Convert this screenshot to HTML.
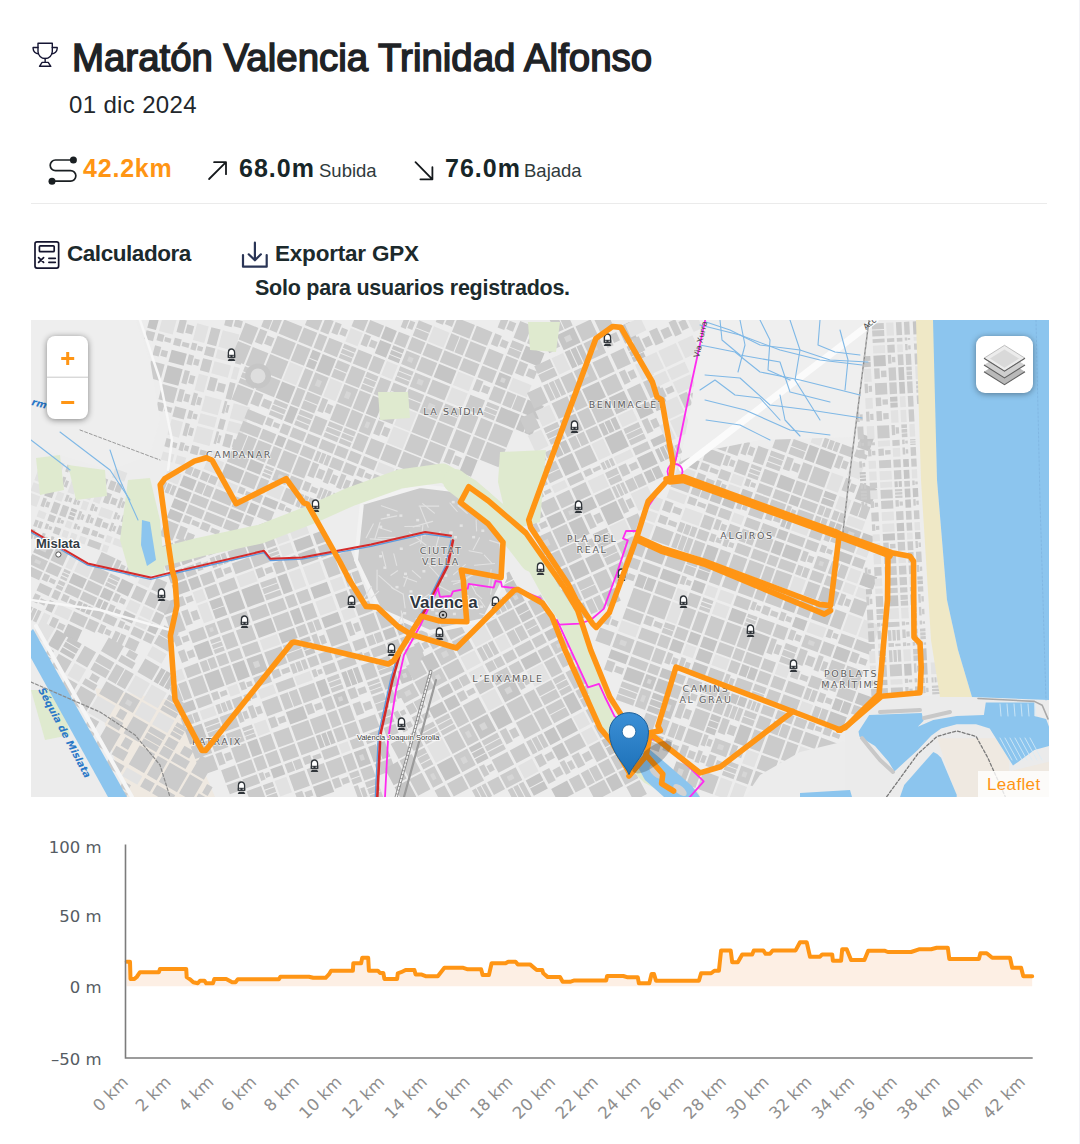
<!DOCTYPE html>
<html lang="es">
<head>
<meta charset="utf-8">
<title>Maratón Valencia Trinidad Alfonso</title>
<style>
html,body{margin:0;padding:0;background:#fff;}
body{width:1080px;height:1144px;position:relative;overflow:hidden;font-family:"Liberation Sans",Arial,sans-serif;}
.a{position:absolute;white-space:nowrap;line-height:1;}
#title{left:71.5px;top:37.6px;font-size:39px;font-weight:normal;-webkit-text-stroke:1.5px #1f2326;color:#1f2326;transform:scaleX(0.985);transform-origin:0 0;}
#date{left:69px;top:93px;font-size:24px;letter-spacing:0.35px;color:#22272b;}
.stat{font-size:25px;font-weight:bold;color:#172628;top:156px;letter-spacing:1px;}
.lbl{font-size:18.5px;font-weight:normal;color:#2f3a3c;letter-spacing:0;}
#dist{left:83px;color:#ff9514;letter-spacing:0.8px;}
#up{left:239px;}
#down{left:445px;}
#hr{position:absolute;left:31px;top:202.5px;width:1016px;height:1.6px;background:#ebebeb;}
.act{font-size:22.5px;font-weight:bold;color:#1c2a2c;top:243px;}
#calc{left:67px;letter-spacing:-0.45px;}
#gpx{left:275px;letter-spacing:-0.2px;}
#solo{left:255px;top:277.5px;font-size:21.5px;letter-spacing:-0.25px;font-weight:bold;color:#1c2a2c;}
#map{position:absolute;left:31px;top:320px;width:1018px;height:477px;overflow:hidden;background:#e9e9e9;}
#chart{position:absolute;left:0;top:0;}
#map svg{position:absolute;left:0;top:0;}
#map text{font-family:"DejaVu Sans","Liberation Sans",sans-serif;}
.ml{font-size:9.5px;letter-spacing:1.6px;fill:#5f5f5f;paint-order:stroke;stroke:rgba(255,255,255,0.6);stroke-width:1.5px;}
.city{font-size:17px;paint-order:stroke;stroke:#fff;stroke-width:2.5px;stroke-linejoin:round;font-weight:bold;fill:#2d353d;font-family:"Liberation Sans",sans-serif !important;}
.town{font-size:13px;font-weight:bold;fill:#333c44;paint-order:stroke;stroke:#fff;stroke-width:2.5px;stroke-linejoin:round;font-family:"Liberation Sans",sans-serif !important;}
.st{font-size:7.5px;fill:#333;font-family:"Liberation Sans",sans-serif !important;paint-order:stroke;stroke:#fff;stroke-width:1.5px;}
.wat{font-size:10px;font-style:italic;fill:#2a78c8;font-weight:bold;}
.road{font-size:8px;fill:#444;}
#zoomc{position:absolute;left:16px;top:16px;width:41px;height:83px;background:#fff;border-radius:8px;box-shadow:0 1px 6px rgba(0,0,0,0.45);overflow:hidden;}
.zb{height:41px;line-height:40px;text-align:center;color:#ff9514;font:bold 25px "Liberation Sans",sans-serif;}
.zm{border-top:1px solid #c8c8c8;}
#layers{position:absolute;left:945px;top:16px;width:57px;height:57px;background:#fff;border-radius:9px;box-shadow:0 1px 6px rgba(0,0,0,0.4);}
#layers svg{position:absolute;left:0;top:0;}
#attr{position:absolute;left:947px;top:450.5px;width:71px;height:27px;background:rgba(255,255,255,0.8);color:#ff9514;font:17px "Liberation Sans",sans-serif;letter-spacing:0.35px;line-height:27px;padding-left:9px;box-sizing:border-box;}

.yl{font-family:"DejaVu Sans",sans-serif;font-size:16.5px;fill:#555c63;}
.xl{font-family:"DejaVu Sans",sans-serif;font-size:16.5px;fill:#8e8e8e;}
#edge{position:absolute;left:1079px;top:0;width:1px;height:1144px;background:#f2f2f6;}
</style>
</head>
<body>
<svg class="a" style="left:28px;top:38px" width="36" height="34" viewBox="28 38 36 34">
  <g fill="none" stroke="#151533" stroke-width="1.4" stroke-linejoin="round" stroke-linecap="round">
    <path d="M38 43.3h14.3v8.2a7.15 7 0 0 1-14.3 0z"/>
    <path d="M38 47.5h-4.9v1a5.4 5.4 0 0 0 5.4 5.2M52.3 47.5h4.9v1a5.4 5.4 0 0 1-5.4 5.2"/>
    <path d="M45.15 58.5v3.8M42.1 62.4h6.1l2.6 3.9H39.5z"/>
  </g>
</svg>
<div id="title" class="a">Maratón Valencia Trinidad Alfonso</div>
<div id="date" class="a">01 dic 2024</div>

<svg class="a" style="left:42px;top:150px" width="40" height="40" viewBox="42 150 40 40">
  <path d="M73.4 160H55.5a5.3 5.3 0 0 0 0 10.6H70.6a5.25 5.25 0 0 1 0 10.5H52" fill="none" stroke="#1a1f22" stroke-width="1.7"/>
  <circle cx="73.4" cy="160.1" r="3.5" fill="#1a1f22"/>
  <circle cx="52" cy="181.3" r="3.5" fill="#1a1f22"/>
</svg>
<div id="dist" class="a stat">42.2km</div>
<svg class="a" style="left:202px;top:155px" width="30" height="30" viewBox="202 155 30 30">
  <path d="M209.1 179L226 162.2M214.1 162.2H226V174.2" fill="none" stroke="#15191c" stroke-width="1.8" stroke-linecap="round" stroke-linejoin="round"/>
</svg>
<div id="up" class="a stat">68.0m</div><div class="a lbl" style="left:319px;top:162px">Subida</div>
<svg class="a" style="left:408px;top:155px" width="30" height="30" viewBox="408 155 30 30">
  <path d="M415.5 162.2L432.4 179.3M420.4 179.3H432.4V167.2" fill="none" stroke="#15191c" stroke-width="1.8" stroke-linecap="round" stroke-linejoin="round"/>
</svg>
<div id="down" class="a stat">76.0m</div><div class="a lbl" style="left:524px;top:162px">Bajada</div>
<div id="hr"></div>

<svg class="a" style="left:30px;top:236px" width="34" height="36" viewBox="30 236 34 36">
  <g fill="none" stroke="#14142e" stroke-width="1.7" stroke-linecap="round">
    <rect x="35" y="241.8" width="23.65" height="26.3" rx="2"/>
    <rect x="39.4" y="245.8" width="14.8" height="5.9" rx="1"/>
    <path d="M38.6 257.6l5 4.8M43.6 257.6l-5 4.8M48.9 258.3h6.4M48.9 262.3h6.4"/>
  </g>
</svg>
<div id="calc" class="a act">Calculadora</div>
<svg class="a" style="left:236px;top:236px" width="36" height="36" viewBox="236 236 36 36">
  <g fill="none" stroke="#2a3556" stroke-width="2.2" stroke-linecap="round" stroke-linejoin="round">
    <path d="M243 255v11.7h23.7V255"/>
    <path d="M254.9 242.7v17.6M248.7 254.3l6.2 6 6-6"/>
  </g>
</svg>
<div id="gpx" class="a act">Exportar GPX</div>
<div id="solo" class="a">Solo para usuarios registrados.</div>

<div id="map">
<svg width="1018" height="477" viewBox="31 320 1018 477">
<rect x="31" y="320" width="1018" height="477" fill="#ededed"/>
<polygon points="95.0,688.0 172.0,700.0 195.0,750.0 215.0,797.0 125.0,797.0" fill="#efe9e1" />
<g transform="translate(0.0,0.0) rotate(15,190.0,395.0)">
<path fill="#cbcbcb" d="M131.3 343.6h9.0v9.0h-9.0zM143.4 343.6h6.4v7.2h-6.4zM151.1 345.4h6.4v4.5h-6.4zM143.4 356.0h6.4v10.0h-6.4zM151.1 358.5h6.4v6.3h-6.4zM143.4 372.1h14.2v17.0h-14.2zM160.6 323.9h7.1v13.7h-7.1zM169.2 327.4h7.1v8.6h-7.1zM160.6 343.6h7.1v7.2h-7.1zM169.2 345.4h7.1v4.5h-7.1zM160.6 391.6h15.7v15.7h-15.7zM160.6 409.8h7.1v8.4h-7.1zM169.2 411.9h7.1v5.3h-7.1zM178.5 343.6h5.3v7.2h-5.3zM185.1 345.4h5.3v4.5h-5.3zM178.5 356.0h5.3v10.0h-5.3zM185.1 358.5h5.3v6.3h-5.3zM178.5 372.1h5.3v13.6h-5.3zM185.1 375.5h5.3v8.5h-5.3zM178.5 391.6h5.3v12.6h-5.3zM185.1 394.7h5.3v7.9h-5.3zM178.5 409.8h11.8v10.5h-11.8zM178.5 442.7h5.3v8.5h-5.3zM185.1 444.8h5.3v5.3h-5.3zM180.9 458.6h5.3v3.3h-5.3zM193.1 323.9h9.5v17.2h-9.5zM193.1 343.6h9.5v9.0h-9.5zM193.1 356.0h9.5v12.5h-9.5zM195.0 376.3h4.3v6.8h-4.3zM193.1 391.6h4.3v12.6h-4.3zM198.3 394.7h4.3v7.9h-4.3zM193.1 409.8h4.3v8.4h-4.3zM198.3 411.9h4.3v5.3h-4.3zM193.1 423.0h4.3v12.9h-4.3zM198.3 426.2h4.3v8.0h-4.3zM193.1 442.7h4.3v8.5h-4.3zM198.3 444.8h4.3v5.3h-4.3zM204.9 307.2h7.7v11.5h-7.7zM214.3 310.0h7.7v7.2h-7.7zM208.4 328.2h7.7v6.9h-7.7zM208.4 359.2h7.7v5.0h-7.7zM204.9 372.1h7.7v13.6h-7.7zM214.3 375.5h7.7v8.5h-7.7zM208.4 395.5h7.7v6.3h-7.7zM208.4 412.5h7.7v4.2h-7.7zM208.4 427.0h7.7v6.4h-7.7zM204.9 442.7h7.7v8.5h-7.7zM214.3 444.8h7.7v5.3h-7.7zM225.2 343.6h5.9v9.0h-5.9zM226.4 359.2h2.6v5.0h-2.6zM225.2 372.1h5.9v17.0h-5.9zM225.2 391.6h2.6v12.6h-2.6zM228.4 394.7h2.6v7.9h-2.6zM225.2 409.8h5.9v10.5h-5.9zM225.2 423.0h2.6v12.9h-2.6zM228.4 426.2h2.6v8.0h-2.6zM226.4 445.3h2.6v4.2h-2.6zM234.4 423.0h7.7v12.9h-7.7zM243.8 426.2h7.7v8.0h-7.7z"/>
<path fill="#c5c5c5" d="M131.3 323.9h9.0v17.2h-9.0zM160.6 356.0h15.7v12.5h-15.7zM160.6 372.1h15.7v17.0h-15.7z"/>
<path fill="#e2e2e2" d="M143.4 323.9h14.2v17.2h-14.2zM178.5 323.9h11.8v17.2h-11.8zM178.5 423.0h11.8v16.1h-11.8zM178.5 456.6h11.8v8.2h-11.8zM193.1 372.1h9.5v17.0h-9.5zM193.1 456.6h9.5v8.2h-9.5zM204.9 323.9h17.1v17.2h-17.1zM204.9 343.6h17.1v9.0h-17.1zM204.9 356.0h17.1v12.5h-17.1zM204.9 391.6h17.1v15.7h-17.1zM204.9 409.8h17.1v10.5h-17.1zM204.9 423.0h17.1v16.1h-17.1zM225.2 356.0h5.9v12.5h-5.9zM225.2 442.7h5.9v10.6h-5.9zM234.4 391.6h17.1v15.7h-17.1zM234.4 409.8h17.1v10.5h-17.1z"/>
</g>
<g transform="translate(0.0,0.0) rotate(22,362.5,432.5)">
<path fill="#cbcbcb" d="M198.9 541.9h6.6v4.4h-6.6zM196.0 552.2h4.2v9.8h-4.2zM201.2 552.2h4.2v9.8h-4.2zM206.4 552.2h4.2v9.8h-4.2zM212.8 374.5h14.0v18.1h-14.0zM212.8 394.3h14.0v19.4h-14.0zM212.8 528.4h6.5v8.3h-6.5zM220.3 528.4h6.5v8.3h-6.5zM212.8 586.9h14.0v17.2h-14.0zM228.8 357.0h7.9v15.2h-7.9zM237.7 357.0h7.9v15.2h-7.9zM228.8 374.5h7.6v14.4h-7.6zM238.0 378.1h7.6v9.0h-7.6zM228.8 394.3h16.8v19.4h-16.8zM228.8 415.2h16.8v5.2h-16.8zM228.8 421.5h16.8v5.2h-16.8zM228.8 427.7h16.8v5.2h-16.8zM228.8 434.5h16.8v16.5h-16.8zM232.1 515.6h7.6v5.5h-7.6zM228.8 528.4h7.9v8.3h-7.9zM237.7 528.4h7.9v8.3h-7.9zM228.8 539.2h7.9v11.0h-7.9zM237.7 539.2h7.9v11.0h-7.9zM228.8 552.2h16.8v9.8h-16.8zM228.8 564.0h16.8v9.3h-16.8zM228.8 575.1h7.6v7.7h-7.6zM238.0 577.0h7.6v4.8h-7.6zM228.8 586.9h7.6v13.7h-7.6zM238.0 590.4h7.6v8.6h-7.6zM247.6 357.0h19.6v15.2h-19.6zM247.6 374.5h19.6v18.1h-19.6zM247.6 394.3h19.6v19.4h-19.6zM247.6 415.2h19.6v17.7h-19.6zM247.6 434.5h8.8v13.2h-8.8zM258.4 437.8h8.8v8.3h-8.8zM247.6 453.7h19.6v9.8h-19.6zM247.6 466.3h19.6v10.4h-19.6zM247.6 478.3h9.3v18.8h-9.3zM257.9 478.3h9.3v18.8h-9.3zM247.6 499.0h19.6v11.2h-19.6zM251.5 530.5h8.8v3.3h-8.8zM247.6 539.2h19.6v11.0h-19.6zM247.6 552.2h19.6v9.8h-19.6zM247.6 564.0h19.6v9.3h-19.6zM247.6 575.1h8.8v7.7h-8.8zM258.4 577.0h8.8v4.8h-8.8zM268.9 340.0h14.3v14.5h-14.3zM268.9 357.0h14.3v15.2h-14.3zM268.9 374.5h14.3v18.1h-14.3zM268.9 434.5h14.3v4.8h-14.3zM268.9 440.3h14.3v4.8h-14.3zM268.9 446.2h14.3v4.8h-14.3zM268.9 453.7h6.4v7.8h-6.4zM276.8 455.7h6.4v4.9h-6.4zM268.9 466.3h14.3v10.4h-14.3zM268.9 478.3h14.3v18.8h-14.3zM268.9 512.2h14.3v13.7h-14.3zM268.9 528.4h6.4v6.6h-6.4zM276.8 530.1h6.4v4.1h-6.4zM268.9 539.2h14.3v11.0h-14.3zM268.9 564.0h14.3v9.3h-14.3zM285.3 340.0h8.8v14.5h-8.8zM285.3 357.0h8.8v15.2h-8.8zM285.3 394.3h8.8v19.4h-8.8zM285.3 415.2h8.8v17.7h-8.8zM285.3 453.7h8.8v9.8h-8.8zM285.3 478.3h8.8v18.8h-8.8zM285.3 499.0h8.8v3.1h-8.8zM285.3 503.0h8.8v3.1h-8.8zM285.3 507.1h8.8v3.1h-8.8zM285.3 512.2h8.8v13.7h-8.8zM285.3 528.4h8.8v8.3h-8.8zM285.3 552.2h8.8v9.8h-8.8zM296.2 340.0h6.5v11.6h-6.5zM304.2 342.9h6.5v7.3h-6.5zM296.2 357.0h14.4v15.2h-14.4zM296.2 394.3h14.4v19.4h-14.4zM296.2 415.2h14.4v8.4h-14.4zM296.2 424.6h14.4v8.4h-14.4zM296.2 434.5h14.4v4.8h-14.4zM296.2 440.3h14.4v4.8h-14.4zM296.2 446.2h14.4v4.8h-14.4zM296.2 453.7h14.4v9.8h-14.4zM296.2 466.3h14.4v10.4h-14.4zM296.2 478.3h14.4v18.8h-14.4zM296.2 499.0h14.4v11.2h-14.4zM299.1 515.6h6.5v5.5h-6.5zM296.2 539.2h14.4v11.0h-14.4zM312.5 325.4h13.1v12.8h-13.1zM315.2 343.7h5.9v5.8h-5.9zM312.5 357.0h13.1v4.4h-13.1zM312.5 362.4h13.1v4.4h-13.1zM312.5 367.7h13.1v4.4h-13.1zM312.5 374.5h13.1v8.5h-13.1zM312.5 384.0h13.1v8.5h-13.1zM315.2 399.1h5.9v7.8h-5.9zM312.5 415.2h5.9v14.2h-5.9zM319.7 418.8h5.9v8.9h-5.9zM312.5 434.5h13.1v16.5h-13.1zM312.5 453.7h13.1v9.8h-13.1zM312.5 466.3h13.1v10.4h-13.1zM312.5 478.3h13.1v18.8h-13.1zM312.5 499.0h13.1v11.2h-13.1zM312.5 512.2h13.1v13.7h-13.1zM312.5 528.4h5.9v6.6h-5.9zM319.7 530.1h5.9v4.1h-5.9zM327.6 325.4h14.9v12.8h-14.9zM327.6 340.0h6.7v11.6h-6.7zM335.8 342.9h6.7v7.3h-6.7zM327.6 357.0h14.9v15.2h-14.9zM327.6 374.5h14.9v18.1h-14.9zM327.6 394.3h14.9v19.4h-14.9zM327.6 415.2h14.9v17.7h-14.9zM327.6 434.5h14.9v4.8h-14.9zM327.6 440.3h14.9v4.8h-14.9zM327.6 446.2h14.9v4.8h-14.9zM327.6 453.7h14.9v9.8h-14.9zM327.6 466.3h4.3v10.4h-4.3zM332.9 466.3h4.3v10.4h-4.3zM338.2 466.3h4.3v10.4h-4.3zM327.6 478.3h6.7v15.0h-6.7zM335.8 482.1h6.7v9.4h-6.7zM327.6 499.0h6.7v9.0h-6.7zM335.8 501.2h6.7v5.6h-6.7zM327.6 512.2h4.3v13.7h-4.3zM332.9 512.2h4.3v13.7h-4.3zM338.2 512.2h4.3v13.7h-4.3zM344.2 357.0h12.1v15.2h-12.1zM344.2 374.5h12.1v5.4h-12.1zM344.2 380.8h12.1v5.4h-12.1zM344.2 387.2h12.1v5.4h-12.1zM344.2 394.3h12.1v19.4h-12.1zM344.2 415.2h12.1v17.7h-12.1zM344.2 434.5h12.1v4.8h-12.1zM344.2 440.3h12.1v4.8h-12.1zM344.2 446.2h12.1v4.8h-12.1zM344.2 453.7h12.1v9.8h-12.1zM344.2 466.3h12.1v10.4h-12.1zM344.2 478.3h5.5v15.0h-5.5zM350.9 482.1h5.5v9.4h-5.5zM344.2 499.0h3.4v11.2h-3.4zM348.6 499.0h3.4v11.2h-3.4zM352.9 499.0h3.4v11.2h-3.4zM358.4 307.3h5.3v13.0h-5.3zM364.9 310.6h5.3v8.2h-5.3zM358.4 325.4h11.8v12.8h-11.8zM360.8 360.8h5.3v6.1h-5.3zM358.4 374.5h11.8v18.1h-11.8zM358.4 415.2h11.8v17.7h-11.8zM358.4 434.5h11.8v16.5h-11.8zM358.4 453.7h11.8v9.8h-11.8zM358.4 466.3h11.8v10.4h-11.8zM358.4 478.3h5.3v15.0h-5.3zM364.9 482.1h5.3v9.4h-5.3zM358.4 499.0h5.4v11.2h-5.4zM364.8 499.0h5.4v11.2h-5.4zM372.7 307.3h14.5v7.7h-14.5zM372.7 316.0h14.5v7.7h-14.5zM372.7 325.4h14.5v12.8h-14.5zM372.7 340.0h14.5v14.5h-14.5zM372.7 357.0h14.5v4.4h-14.5zM372.7 362.4h14.5v4.4h-14.5zM372.7 367.7h14.5v4.4h-14.5zM372.7 374.5h14.5v8.5h-14.5zM372.7 384.0h14.5v8.5h-14.5zM372.7 394.3h14.5v19.4h-14.5zM372.7 415.2h6.5v14.2h-6.5zM380.7 418.8h6.5v8.9h-6.5zM372.7 434.5h14.5v16.5h-14.5zM372.7 453.7h14.5v9.8h-14.5zM372.7 466.3h6.5v8.3h-6.5zM380.7 468.3h6.5v5.2h-6.5zM389.0 290.8h7.6v11.8h-7.6zM398.3 293.7h7.6v7.4h-7.6zM392.4 311.4h7.6v6.5h-7.6zM389.0 325.4h16.8v12.8h-16.8zM389.0 340.0h16.8v14.5h-16.8zM389.0 357.0h16.8v15.2h-16.8zM389.0 374.5h16.8v8.5h-16.8zM389.0 384.0h16.8v8.5h-16.8zM392.4 399.1h7.6v7.8h-7.6zM389.0 434.5h16.8v16.5h-16.8zM389.0 466.3h16.8v10.4h-16.8zM407.7 290.8h18.8v14.7h-18.8zM407.7 307.3h8.9v16.3h-8.9zM417.6 307.3h8.9v16.3h-8.9zM407.7 325.4h18.8v12.8h-18.8zM407.7 357.0h18.8v15.2h-18.8zM407.7 374.5h18.8v18.1h-18.8zM407.7 394.3h18.8v19.4h-18.8zM407.7 415.2h18.8v17.7h-18.8zM407.7 434.5h18.8v16.5h-18.8zM407.7 453.7h18.8v9.8h-18.8zM428.5 290.8h17.0v14.7h-17.0zM428.5 307.3h17.0v16.3h-17.0zM428.5 325.4h17.0v12.8h-17.0zM431.9 343.7h7.6v5.8h-7.6zM431.9 360.8h7.6v6.1h-7.6zM428.5 374.5h17.0v8.5h-17.0zM428.5 384.0h17.0v8.5h-17.0zM428.5 394.3h17.0v19.4h-17.0zM428.5 415.2h17.0v17.7h-17.0zM428.5 434.5h17.0v16.5h-17.0zM448.4 270.1h7.1v14.4h-7.1zM457.1 273.7h7.1v9.0h-7.1zM448.4 290.8h7.1v11.8h-7.1zM457.1 293.7h7.1v7.4h-7.1zM448.4 307.3h15.8v16.3h-15.8zM448.4 325.4h15.8v12.8h-15.8zM448.4 340.0h7.1v11.6h-7.1zM457.1 342.9h7.1v7.3h-7.1zM448.4 357.0h15.8v15.2h-15.8zM448.4 374.5h15.8v18.1h-15.8zM448.4 394.3h15.8v19.4h-15.8zM448.4 415.2h7.1v14.2h-7.1zM457.1 418.8h7.1v8.9h-7.1zM467.0 270.1h12.7v18.0h-12.7zM467.0 290.8h12.7v6.9h-12.7zM467.0 298.6h12.7v6.9h-12.7zM467.0 307.3h12.7v16.3h-12.7zM467.0 340.0h12.7v14.5h-12.7zM467.0 357.0h12.7v4.4h-12.7zM467.0 362.4h12.7v4.4h-12.7zM467.0 367.7h12.7v4.4h-12.7zM467.0 374.5h12.7v18.1h-12.7zM467.0 394.3h12.7v19.4h-12.7zM481.6 270.1h6.0v18.0h-6.0zM488.6 270.1h6.0v18.0h-6.0zM495.7 270.1h6.0v18.0h-6.0zM481.6 307.3h9.0v13.0h-9.0zM492.6 310.6h9.0v8.2h-9.0zM485.6 328.6h9.0v5.1h-9.0zM481.6 340.0h9.5v14.5h-9.5zM492.1 340.0h9.5v14.5h-9.5zM481.6 374.5h20.0v18.1h-20.0zM481.6 394.3h20.0v19.4h-20.0z"/>
<path fill="#c5c5c5" d="M212.8 539.2h14.0v11.0h-14.0zM212.8 552.2h14.0v9.8h-14.0zM212.8 564.0h14.0v9.3h-14.0zM212.8 575.1h14.0v9.6h-14.0zM247.6 512.2h19.6v13.7h-19.6zM268.9 415.2h14.3v17.7h-14.3zM268.9 499.0h14.3v11.2h-14.3zM268.9 552.2h14.3v9.8h-14.3zM285.3 374.5h8.8v8.5h-8.8zM285.3 384.0h8.8v8.5h-8.8zM285.3 434.5h8.8v16.5h-8.8zM285.3 466.3h8.8v10.4h-8.8zM285.3 539.2h8.8v11.0h-8.8zM296.2 374.5h14.4v18.1h-14.4zM296.2 528.4h14.4v8.3h-14.4zM344.2 325.4h12.1v12.8h-12.1zM344.2 340.0h12.1v14.5h-12.1zM358.4 340.0h11.8v4.2h-11.8zM358.4 345.2h11.8v4.2h-11.8zM358.4 350.4h11.8v4.2h-11.8zM358.4 394.3h11.8v19.4h-11.8zM372.7 478.3h14.5v18.8h-14.5zM407.7 340.0h18.8v14.5h-18.8zM467.0 325.4h12.7v12.8h-12.7zM467.0 415.2h12.7v17.7h-12.7zM481.6 290.8h20.0v14.7h-20.0zM481.6 357.0h20.0v15.2h-20.0zM503.4 340.0h17.3v14.5h-17.3zM503.4 357.0h8.2v15.2h-8.2zM512.6 357.0h8.2v15.2h-8.2z"/>
<path fill="#e2e2e2" d="M196.0 539.2h14.6v11.0h-14.6zM228.8 512.2h16.8v13.7h-16.8zM247.6 528.4h19.6v8.3h-19.6zM268.9 394.3h14.3v19.4h-14.3zM296.2 512.2h14.4v13.7h-14.4zM312.5 340.0h13.1v14.5h-13.1zM312.5 394.3h13.1v19.4h-13.1zM358.4 357.0h11.8v15.2h-11.8zM389.0 307.3h16.8v16.3h-16.8zM389.0 394.3h16.8v19.4h-16.8zM389.0 415.2h16.8v17.7h-16.8zM389.0 453.7h16.8v9.8h-16.8zM428.5 340.0h17.0v14.5h-17.0zM428.5 357.0h17.0v15.2h-17.0zM481.6 325.4h20.0v12.8h-20.0z"/>
<path fill="#d6d6d6" d="M300.6 400.1h5.1v6.8h-5.1zM300.6 502.3h5.1v3.9h-5.1zM332.1 400.1h5.2v6.8h-5.2zM362.0 420.5h4.1v6.2h-4.1zM377.0 344.4h5.1v5.1h-5.1zM377.0 400.1h5.1v6.8h-5.1zM394.1 361.5h5.9v5.3h-5.9zM413.3 379.9h6.6v6.3h-6.6zM433.6 439.5h5.9v5.8h-5.9zM470.9 329.2h4.5v4.5h-4.5z"/>
</g>
<g transform="translate(0.0,0.0) rotate(-25,598.5,472.5)">
<path fill="#cbcbcb" d="M513.8 491.5h7.3v9.6h-7.3zM522.8 493.9h7.3v6.0h-7.3zM513.8 505.4h16.3v19.0h-16.3zM513.8 526.0h16.3v16.1h-16.3zM513.8 563.1h16.3v18.3h-16.3zM532.1 429.2h15.7v12.5h-15.7zM532.1 443.7h15.7v18.0h-15.7zM532.1 464.9h7.1v6.4h-7.1zM540.7 466.5h7.1v4.0h-7.1zM532.1 475.7h15.7v13.8h-15.7zM532.1 505.4h15.7v19.0h-15.7zM532.1 526.0h15.7v16.1h-15.7zM532.1 563.1h15.7v8.7h-15.7zM532.1 572.7h15.7v8.7h-15.7zM532.1 583.8h7.3v14.2h-7.3zM540.5 583.8h7.3v14.2h-7.3zM550.0 390.2h14.6v17.1h-14.6zM550.0 429.2h6.6v10.0h-6.6zM558.1 431.7h6.6v6.2h-6.6zM550.0 443.7h14.6v8.5h-14.6zM550.0 453.2h14.6v8.5h-14.6zM550.0 475.7h14.6v13.8h-14.6zM550.0 491.5h14.6v12.0h-14.6zM550.0 526.0h6.6v12.9h-6.6zM558.1 529.3h6.6v8.1h-6.6zM550.0 563.1h14.6v18.3h-14.6zM567.2 370.3h15.4v17.3h-15.4zM570.3 394.5h6.9v6.8h-6.9zM567.2 409.2h15.4v5.4h-15.4zM567.2 415.6h15.4v5.4h-15.4zM567.2 422.0h15.4v5.4h-15.4zM567.2 464.9h15.4v7.9h-15.4zM567.2 475.7h15.4v13.8h-15.4zM567.2 505.4h6.9v15.2h-6.9zM575.7 509.2h6.9v9.5h-6.9zM567.2 544.7h15.4v7.3h-15.4zM567.2 552.9h15.4v7.3h-15.4zM567.2 563.1h15.4v18.3h-15.4zM585.1 349.1h17.3v8.5h-17.3zM585.1 358.7h17.3v8.5h-17.3zM585.1 370.3h5.1v17.3h-5.1zM591.2 370.3h5.1v17.3h-5.1zM597.3 370.3h5.1v17.3h-5.1zM585.1 390.2h17.3v17.1h-17.3zM585.1 429.2h8.1v12.5h-8.1zM594.3 429.2h8.1v12.5h-8.1zM585.1 443.7h17.3v18.0h-17.3zM585.1 464.9h7.8v6.4h-7.8zM594.6 466.5h7.8v4.0h-7.8zM588.6 479.2h7.8v5.5h-7.8zM585.1 491.5h17.3v12.0h-17.3zM588.6 530.1h7.8v6.4h-7.8zM585.1 544.7h17.3v15.5h-17.3zM604.2 330.4h5.7v13.3h-5.7zM611.2 333.8h5.7v8.3h-5.7zM606.8 353.7h5.7v7.2h-5.7zM604.2 370.3h12.7v17.3h-12.7zM604.2 390.2h12.7v17.1h-12.7zM604.2 409.2h12.7v18.1h-12.7zM604.2 429.2h12.7v12.5h-12.7zM606.8 448.2h5.7v7.2h-5.7zM604.2 464.9h3.6v7.9h-3.6zM608.8 464.9h3.6v7.9h-3.6zM613.4 464.9h3.6v7.9h-3.6zM604.2 475.7h12.7v6.4h-12.7zM604.2 483.1h12.7v6.4h-12.7zM604.2 491.5h3.6v12.0h-3.6zM608.8 491.5h3.6v12.0h-3.6zM613.4 491.5h3.6v12.0h-3.6zM604.2 505.4h5.7v15.2h-5.7zM611.2 509.2h5.7v9.5h-5.7zM604.2 526.0h12.7v16.1h-12.7zM618.7 310.3h8.8v18.0h-8.8zM628.5 310.3h8.8v18.0h-8.8zM618.7 370.3h18.5v17.3h-18.5zM618.7 409.2h18.5v18.1h-18.5zM622.4 466.9h8.3v3.2h-8.3zM618.7 475.7h8.3v11.0h-8.3zM628.9 478.5h8.3v6.9h-8.3zM618.7 491.5h8.8v12.0h-8.8zM628.5 491.5h8.8v12.0h-8.8zM622.4 510.2h8.3v7.6h-8.3zM639.4 330.4h16.6v16.7h-16.6zM639.4 349.1h16.6v18.1h-16.6zM639.4 370.3h16.6v17.3h-16.6zM639.4 390.2h16.6v17.1h-16.6zM639.4 443.7h16.6v5.3h-16.6zM639.4 450.0h16.6v5.3h-16.6zM639.4 456.4h16.6v5.3h-16.6zM639.4 464.9h16.6v7.9h-16.6zM659.3 330.4h14.6v16.7h-14.6zM659.3 349.1h6.6v14.5h-6.6zM667.3 352.7h6.6v9.0h-6.6zM659.3 370.3h14.6v17.3h-14.6zM659.3 390.2h6.6v13.7h-6.6zM667.3 393.7h6.6v8.5h-6.6zM659.3 409.2h14.6v18.1h-14.6zM659.3 443.7h6.6v14.4h-6.6zM667.3 447.3h6.6v9.0h-6.6zM679.8 394.5h5.9v6.8h-5.9zM677.1 409.2h13.1v18.1h-13.1z"/>
<path fill="#c5c5c5" d="M513.8 464.9h4.8v7.9h-4.8zM519.6 464.9h4.8v7.9h-4.8zM525.3 464.9h4.8v7.9h-4.8zM513.8 475.7h16.3v13.8h-16.3zM513.8 544.7h16.3v15.5h-16.3zM513.8 583.8h16.3v14.2h-16.3zM532.1 491.5h15.7v12.0h-15.7zM532.1 544.7h15.7v15.5h-15.7zM550.0 505.4h14.6v19.0h-14.6zM550.0 544.7h14.6v15.5h-14.6zM550.0 583.8h14.6v14.2h-14.6zM567.2 429.2h7.2v12.5h-7.2zM575.4 429.2h7.2v12.5h-7.2zM567.2 443.7h15.4v18.0h-15.4zM567.2 491.5h15.4v12.0h-15.4zM567.2 526.0h15.4v4.7h-15.4zM567.2 531.7h15.4v4.7h-15.4zM567.2 537.4h15.4v4.7h-15.4zM585.1 409.2h17.3v18.1h-17.3zM585.1 505.4h17.3v19.0h-17.3zM618.7 330.4h18.5v16.7h-18.5zM618.7 349.1h5.5v18.1h-5.5zM625.2 349.1h5.5v18.1h-5.5zM631.8 349.1h5.5v18.1h-5.5zM618.7 390.2h18.5v17.1h-18.5zM618.7 429.2h5.5v12.5h-5.5zM625.2 429.2h5.5v12.5h-5.5zM631.8 429.2h5.5v12.5h-5.5zM618.7 443.7h18.5v18.0h-18.5zM639.4 409.2h16.6v18.1h-16.6zM639.4 475.7h16.6v13.8h-16.6zM639.4 491.5h7.8v12.0h-7.8zM648.2 491.5h7.8v12.0h-7.8zM659.3 429.2h14.6v12.5h-14.6zM659.3 464.9h14.6v7.9h-14.6zM659.3 475.7h4.2v13.8h-4.2zM664.5 475.7h4.2v13.8h-4.2zM669.7 475.7h4.2v13.8h-4.2zM677.1 349.1h13.1v18.1h-13.1zM677.1 370.3h13.1v5.1h-13.1zM677.1 376.3h13.1v5.1h-13.1zM677.1 382.4h13.1v5.1h-13.1zM677.1 429.2h13.1v12.5h-13.1z"/>
<path fill="#e2e2e2" d="M550.0 409.2h14.6v18.1h-14.6zM550.0 464.9h14.6v7.9h-14.6zM567.2 390.2h15.4v17.1h-15.4zM585.1 475.7h17.3v13.8h-17.3zM585.1 526.0h17.3v16.1h-17.3zM604.2 349.1h12.7v18.1h-12.7zM604.2 443.7h12.7v18.0h-12.7zM618.7 464.9h18.5v7.9h-18.5zM618.7 505.4h18.5v19.0h-18.5zM639.4 429.2h16.6v12.5h-16.6zM677.1 390.2h13.1v17.1h-13.1z"/>
<path fill="#d6d6d6" d="M518.7 511.1h5.7v6.6h-5.7zM554.4 495.1h5.1v4.2h-5.1zM590.3 549.3h6.0v5.4h-6.0zM624.3 335.4h6.5v5.8h-6.5zM624.3 375.4h6.5v6.0h-6.5zM644.4 354.6h5.8v6.3h-5.8z"/>
</g>
<g transform="translate(0.0,0.0) rotate(-25,662.5,395.0)">
<path fill="#cbcbcb" d="M646.5 442.1h4.4v15.4h-4.4zM651.9 446.0h4.4v9.6h-4.4zM648.4 466.1h4.4v3.1h-4.4zM658.2 331.6h7.6v15.7h-7.6zM667.5 335.5h7.6v9.8h-7.6zM661.6 358.0h7.6v7.2h-7.6zM661.6 377.0h7.6v4.5h-7.6zM658.2 387.9h7.6v10.0h-7.6zM667.5 390.4h7.6v6.3h-7.6zM661.6 406.6h7.6v7.0h-7.6zM661.6 426.2h7.6v7.4h-7.6zM677.2 331.6h8.7v15.7h-8.7zM687.9 335.5h8.7v9.8h-8.7zM681.1 377.0h8.7v4.5h-8.7zM681.1 391.0h8.7v5.0h-8.7zM677.2 402.2h8.7v14.0h-8.7zM687.9 405.7h8.7v8.8h-8.7zM698.8 331.6h7.2v15.7h-7.2zM707.7 335.5h7.2v9.8h-7.2zM719.4 336.5h4.4v7.8h-4.4z"/>
<path fill="#e2e2e2" d="M646.5 421.6h9.7v18.4h-9.7zM646.5 464.1h9.7v7.8h-9.7zM658.2 315.3h17.0v14.2h-17.0zM658.2 353.4h17.0v18.1h-17.0zM658.2 374.2h17.0v11.3h-17.0zM658.2 402.2h17.0v17.5h-17.0zM658.2 421.6h17.0v18.4h-17.0zM677.2 353.4h19.4v18.1h-19.4zM677.2 374.2h19.4v11.3h-19.4zM677.2 387.9h19.4v12.5h-19.4zM698.8 353.4h16.1v18.1h-16.1zM717.4 331.6h9.8v19.6h-9.8z"/>
</g>
<g transform="translate(0.0,0.0) rotate(-20,297.5,654.5)">
<path fill="#cbcbcb" d="M169.3 630.9h8.1v4.4h-8.1zM165.7 641.3h8.5v17.7h-8.5zM175.2 641.3h8.5v17.7h-8.5zM165.7 674.2h5.3v9.5h-5.3zM172.1 674.2h5.3v9.5h-5.3zM178.4 674.2h5.3v9.5h-5.3zM165.7 704.7h18.0v13.1h-18.0zM165.7 719.8h18.0v15.6h-18.0zM186.1 574.3h14.9v18.9h-14.9zM186.1 596.1h6.7v9.6h-6.7zM194.3 598.5h6.7v6.0h-6.7zM186.1 610.9h6.7v12.0h-6.7zM194.3 613.9h6.7v7.5h-6.7zM186.1 628.2h14.9v10.9h-14.9zM186.1 641.3h14.9v17.7h-14.9zM186.1 661.3h14.9v10.0h-14.9zM189.1 676.6h6.7v3.8h-6.7zM186.1 686.6h14.9v4.6h-14.9zM186.1 692.2h14.9v4.6h-14.9zM186.1 697.7h14.9v4.6h-14.9zM186.1 704.7h14.9v13.1h-14.9zM186.1 719.8h6.7v12.5h-6.7zM194.3 722.9h6.7v7.8h-6.7zM186.1 737.2h14.9v13.4h-14.9zM186.1 753.1h14.9v9.7h-14.9zM202.9 519.4h15.4v11.9h-15.4zM202.9 560.2h6.9v9.4h-6.9zM211.4 562.6h6.9v5.9h-6.9zM202.9 574.3h6.9v15.2h-6.9zM211.4 578.0h6.9v9.5h-6.9zM202.9 596.1h15.4v12.1h-15.4zM202.9 628.2h7.2v10.9h-7.2zM211.1 628.2h7.2v10.9h-7.2zM202.9 661.3h6.9v8.0h-6.9zM211.4 663.3h6.9v5.0h-6.9zM202.9 674.2h4.5v9.5h-4.5zM208.4 674.2h4.5v9.5h-4.5zM213.9 674.2h4.5v9.5h-4.5zM202.9 686.6h15.4v15.8h-15.4zM202.9 704.7h15.4v13.1h-15.4zM202.9 719.8h15.4v15.6h-15.4zM202.9 737.2h15.4v13.4h-15.4zM202.9 753.1h15.4v9.7h-15.4zM202.9 765.5h15.4v16.5h-15.4zM220.2 506.5h10.4v10.0h-10.4zM220.2 534.0h10.4v10.5h-10.4zM222.3 579.0h4.7v7.6h-4.7zM220.2 596.1h10.4v12.1h-10.4zM220.2 610.9h10.4v4.3h-10.4zM220.2 616.3h10.4v4.3h-10.4zM220.2 621.6h10.4v4.3h-10.4zM220.2 628.2h10.4v10.9h-10.4zM220.2 641.3h10.4v17.7h-10.4zM220.2 674.2h10.4v9.5h-10.4zM220.2 686.6h4.7v12.6h-4.7zM225.9 689.7h4.7v7.9h-4.7zM220.2 704.7h10.4v3.7h-10.4zM220.2 709.4h10.4v3.7h-10.4zM220.2 714.0h10.4v3.7h-10.4zM220.2 737.2h10.4v13.4h-10.4zM220.2 753.1h4.7v7.8h-4.7zM225.9 755.0h4.7v4.8h-4.7zM220.2 765.5h10.4v4.8h-10.4zM220.2 771.3h10.4v4.8h-10.4zM220.2 777.2h10.4v4.8h-10.4zM232.7 519.4h12.5v11.9h-12.5zM232.7 534.0h5.6v8.4h-5.6zM239.5 536.1h5.6v5.2h-5.6zM232.7 546.5h12.5v11.4h-12.5zM232.7 560.2h12.5v11.8h-12.5zM232.7 596.1h12.5v12.1h-12.5zM232.7 610.9h12.5v15.0h-12.5zM232.7 628.2h12.5v10.9h-12.5zM232.7 661.3h5.6v8.0h-5.6zM239.5 663.3h5.6v5.0h-5.6zM232.7 674.2h5.6v7.6h-5.6zM239.5 676.1h5.6v4.8h-5.6zM232.7 686.6h5.6v12.6h-5.6zM239.5 689.7h5.6v7.9h-5.6zM235.1 707.9h5.6v5.2h-5.6zM232.7 719.8h12.5v15.6h-12.5zM232.7 737.2h12.5v13.4h-12.5zM235.1 769.6h5.6v6.6h-5.6zM247.8 519.4h16.5v11.9h-16.5zM247.8 534.0h4.8v10.5h-4.8zM253.7 534.0h4.8v10.5h-4.8zM259.5 534.0h4.8v10.5h-4.8zM247.8 546.5h7.4v9.2h-7.4zM256.9 548.8h7.4v5.7h-7.4zM247.8 560.2h16.5v11.8h-16.5zM247.8 596.1h16.5v12.1h-16.5zM247.8 610.9h16.5v15.0h-16.5zM247.8 628.2h16.5v10.9h-16.5zM247.8 661.3h16.5v10.0h-16.5zM247.8 686.6h16.5v15.8h-16.5zM247.8 704.7h7.4v10.4h-7.4zM256.9 707.3h7.4v6.5h-7.4zM247.8 719.8h16.5v15.6h-16.5zM247.8 737.2h16.5v13.4h-16.5zM247.8 753.1h7.8v9.7h-7.8zM256.6 753.1h7.8v9.7h-7.8zM247.8 765.5h16.5v16.5h-16.5zM247.8 784.0h7.4v9.6h-7.4zM256.9 786.4h7.4v6.0h-7.4zM266.8 519.4h18.3v11.9h-18.3zM266.8 534.0h18.3v10.5h-18.3zM266.8 546.5h18.3v11.4h-18.3zM270.4 563.2h8.2v4.7h-8.2zM266.8 596.1h18.3v12.1h-18.3zM266.8 641.3h18.3v17.7h-18.3zM266.8 661.3h8.2v8.0h-8.2zM276.8 663.3h8.2v5.0h-8.2zM266.8 674.2h18.3v9.5h-18.3zM266.8 686.6h8.6v15.8h-8.6zM276.4 686.6h8.6v15.8h-8.6zM266.8 719.8h18.3v15.6h-18.3zM266.8 737.2h18.3v13.4h-18.3zM266.8 753.1h8.2v7.8h-8.2zM276.8 755.0h8.2v4.8h-8.2zM266.8 765.5h18.3v16.5h-18.3zM286.8 519.4h16.5v11.9h-16.5zM286.8 546.5h16.5v11.4h-16.5zM286.8 560.2h7.4v9.4h-7.4zM295.8 562.6h7.4v5.9h-7.4zM286.8 574.3h16.5v5.6h-16.5zM286.8 580.9h16.5v5.6h-16.5zM286.8 587.6h16.5v5.6h-16.5zM286.8 596.1h16.5v12.1h-16.5zM286.8 610.9h16.5v15.0h-16.5zM286.8 641.3h16.5v8.3h-16.5zM286.8 650.6h16.5v8.3h-16.5zM286.8 661.3h4.8v10.0h-4.8zM292.6 661.3h4.8v10.0h-4.8zM298.4 661.3h4.8v10.0h-4.8zM290.1 676.6h7.4v3.8h-7.4zM286.8 686.6h16.5v15.8h-16.5zM286.8 704.7h7.4v10.4h-7.4zM295.8 707.3h7.4v6.5h-7.4zM286.8 719.8h16.5v15.6h-16.5zM286.8 753.1h16.5v9.7h-16.5zM286.8 765.5h16.5v16.5h-16.5zM286.8 784.0h7.4v9.6h-7.4zM295.8 786.4h7.4v6.0h-7.4zM305.2 519.4h9.7v11.9h-9.7zM305.2 534.0h9.7v10.5h-9.7zM305.2 546.5h9.7v3.1h-9.7zM305.2 550.6h9.7v3.1h-9.7zM305.2 554.8h9.7v3.1h-9.7zM305.2 560.2h9.7v11.8h-9.7zM305.2 596.1h9.7v12.1h-9.7zM305.2 628.2h9.7v10.9h-9.7zM305.2 661.3h9.7v10.0h-9.7zM305.2 674.2h4.4v7.6h-4.4zM310.6 676.1h4.4v4.8h-4.4zM305.2 704.7h9.7v13.1h-9.7zM305.2 719.8h9.7v15.6h-9.7zM305.2 737.2h9.7v13.4h-9.7zM305.2 765.5h9.7v16.5h-9.7zM305.2 784.0h9.7v5.5h-9.7zM305.2 790.5h9.7v5.5h-9.7zM305.2 797.8h4.4v15.9h-4.4zM310.6 801.8h4.4v9.9h-4.4zM319.5 522.4h5.5v4.8h-5.5zM319.5 536.6h5.5v4.2h-5.5zM319.5 549.3h5.5v4.6h-5.5zM317.0 560.2h12.3v11.8h-12.3zM317.0 596.1h12.3v12.1h-12.3zM317.0 610.9h12.3v15.0h-12.3zM317.0 628.2h5.7v10.9h-5.7zM323.7 628.2h5.7v10.9h-5.7zM317.0 641.3h5.5v14.1h-5.5zM323.8 644.8h5.5v8.8h-5.5zM317.0 661.3h12.3v10.0h-12.3zM317.0 674.2h12.3v9.5h-12.3zM317.0 686.6h12.3v4.6h-12.3zM317.0 692.2h12.3v4.6h-12.3zM317.0 697.7h12.3v4.6h-12.3zM317.0 719.8h12.3v15.6h-12.3zM317.0 737.2h12.3v13.4h-12.3zM317.0 753.1h12.3v9.7h-12.3zM317.0 784.0h12.3v12.0h-12.3zM317.0 797.8h12.3v5.9h-12.3zM317.0 804.8h12.3v5.9h-12.3zM317.0 811.7h12.3v5.9h-12.3zM332.3 519.4h8.0v9.6h-8.0zM342.0 521.8h8.0v6.0h-8.0zM335.8 579.0h8.0v7.6h-8.0zM335.8 614.7h8.0v6.0h-8.0zM332.3 641.3h17.7v17.7h-17.7zM332.3 661.3h17.7v10.0h-17.7zM332.3 674.2h17.7v9.5h-17.7zM332.3 704.7h8.0v10.4h-8.0zM342.0 707.3h8.0v6.5h-8.0zM332.3 719.8h8.0v12.5h-8.0zM342.0 722.9h8.0v7.8h-8.0zM332.3 737.2h17.7v13.4h-17.7zM332.3 753.1h17.7v9.7h-17.7zM332.3 784.0h17.7v12.0h-17.7zM353.2 560.2h12.5v11.8h-12.5zM353.2 574.3h12.5v18.9h-12.5zM353.2 610.9h12.5v15.0h-12.5zM355.7 630.9h5.6v4.4h-5.6zM353.2 641.3h5.6v14.1h-5.6zM360.1 644.8h5.6v8.8h-5.6zM353.2 661.3h12.5v10.0h-12.5zM353.2 674.2h5.6v7.6h-5.6zM360.1 676.1h5.6v4.8h-5.6zM353.2 686.6h12.5v15.8h-12.5zM353.2 704.7h12.5v3.7h-12.5zM353.2 709.4h12.5v3.7h-12.5zM353.2 714.0h12.5v3.7h-12.5zM353.2 719.8h12.5v7.3h-12.5zM353.2 728.1h12.5v7.3h-12.5zM353.2 753.1h12.5v9.7h-12.5zM368.0 574.3h15.2v18.9h-15.2zM368.0 596.1h7.1v12.1h-7.1zM376.1 596.1h7.1v12.1h-7.1zM368.0 628.2h15.2v10.9h-15.2zM368.0 641.3h15.2v17.7h-15.2zM368.0 661.3h7.1v10.0h-7.1zM376.1 661.3h7.1v10.0h-7.1zM368.0 674.2h15.2v9.5h-15.2zM368.0 686.6h15.2v4.6h-15.2zM368.0 692.2h15.2v4.6h-15.2zM368.0 697.7h15.2v4.6h-15.2zM368.0 719.8h6.9v12.5h-6.9zM376.4 722.9h6.9v7.8h-6.9zM385.5 641.3h11.7v17.7h-11.7zM385.5 674.2h11.7v9.5h-11.7zM399.5 674.2h7.4v7.6h-7.4zM408.6 676.1h7.4v4.8h-7.4zM399.5 686.6h16.5v15.8h-16.5zM418.9 674.2h7.9v7.6h-7.9zM428.6 676.1h7.9v4.8h-7.9z"/>
<path fill="#c5c5c5" d="M165.7 661.3h18.0v10.0h-18.0zM165.7 686.6h18.0v15.8h-18.0zM186.1 560.2h14.9v11.8h-14.9zM202.9 506.5h15.4v10.0h-15.4zM202.9 534.0h15.4v10.5h-15.4zM202.9 546.5h15.4v11.4h-15.4zM202.9 610.9h15.4v15.0h-15.4zM202.9 641.3h15.4v17.7h-15.4zM220.2 519.4h10.4v11.9h-10.4zM220.2 546.5h10.4v11.4h-10.4zM220.2 719.8h10.4v15.6h-10.4zM232.7 574.3h12.5v9.0h-12.5zM232.7 584.2h12.5v9.0h-12.5zM232.7 641.3h12.5v17.7h-12.5zM232.7 753.1h12.5v9.7h-12.5zM247.8 574.3h16.5v18.9h-16.5zM247.8 641.3h16.5v17.7h-16.5zM266.8 574.3h18.3v18.9h-18.3zM266.8 610.9h18.3v15.0h-18.3zM266.8 704.7h18.3v13.1h-18.3zM266.8 784.0h18.3v12.0h-18.3zM286.8 534.0h16.5v10.5h-16.5zM286.8 628.2h16.5v10.9h-16.5zM286.8 737.2h4.8v13.4h-4.8zM292.6 737.2h4.8v13.4h-4.8zM298.4 737.2h4.8v13.4h-4.8zM305.2 574.3h9.7v18.9h-9.7zM305.2 610.9h9.7v15.0h-9.7zM305.2 641.3h9.7v5.2h-9.7zM305.2 647.5h9.7v5.2h-9.7zM305.2 653.7h9.7v5.2h-9.7zM305.2 686.6h9.7v15.8h-9.7zM317.0 704.7h12.3v13.1h-12.3zM317.0 765.5h12.3v16.5h-12.3zM332.3 546.5h17.7v11.4h-17.7zM332.3 560.2h17.7v11.8h-17.7zM332.3 596.1h17.7v12.1h-17.7zM332.3 628.2h17.7v10.9h-17.7zM332.3 686.6h5.2v15.8h-5.2zM338.5 686.6h5.2v15.8h-5.2zM344.7 686.6h5.2v15.8h-5.2zM332.3 765.5h8.3v16.5h-8.3zM341.6 765.5h8.3v16.5h-8.3zM353.2 546.5h12.5v11.4h-12.5zM353.2 737.2h12.5v6.2h-12.5zM353.2 744.4h12.5v6.2h-12.5zM368.0 610.9h15.2v15.0h-15.2zM368.0 704.7h15.2v13.1h-15.2zM385.5 661.3h11.7v10.0h-11.7zM385.5 704.7h11.7v13.1h-11.7zM399.5 661.3h16.5v10.0h-16.5z"/>
<path fill="#e2e2e2" d="M165.7 628.2h18.0v10.9h-18.0zM186.1 674.2h14.9v9.5h-14.9zM220.2 560.2h10.4v11.8h-10.4zM220.2 574.3h10.4v18.9h-10.4zM220.2 661.3h10.4v10.0h-10.4zM232.7 704.7h12.5v13.1h-12.5zM232.7 765.5h12.5v16.5h-12.5zM247.8 674.2h16.5v9.5h-16.5zM266.8 560.2h18.3v11.8h-18.3zM266.8 628.2h18.3v10.9h-18.3zM286.8 674.2h16.5v9.5h-16.5zM305.2 753.1h9.7v9.7h-9.7zM317.0 519.4h12.3v11.9h-12.3zM317.0 534.0h12.3v10.5h-12.3zM317.0 546.5h12.3v11.4h-12.3zM317.0 574.3h12.3v18.9h-12.3zM332.3 534.0h17.7v10.5h-17.7zM332.3 574.3h17.7v18.9h-17.7zM332.3 610.9h17.7v15.0h-17.7zM353.2 596.1h12.5v12.1h-12.5zM353.2 628.2h12.5v10.9h-12.5zM385.5 686.6h11.7v15.8h-11.7z"/>
<path fill="#d6d6d6" d="M171.1 708.6h6.3v4.6h-6.3zM223.4 599.7h3.6v4.2h-3.6zM252.8 646.6h5.8v6.2h-5.8zM320.7 708.6h4.3v4.6h-4.3zM320.7 770.5h4.3v5.8h-4.3zM389.0 708.6h4.1v4.6h-4.1z"/>
</g>
<g transform="translate(0.0,0.0) rotate(-28,520.0,687.5)">
<path fill="#cbcbcb" d="M379.3 676.6h13.9v17.1h-13.9zM379.3 695.5h13.9v19.1h-13.9zM379.3 716.6h13.9v18.6h-13.9zM396.2 650.3h5.1v7.9h-5.1zM402.4 652.3h5.1v5.0h-5.1zM396.2 663.2h5.1v9.3h-5.1zM402.4 665.5h5.1v5.8h-5.1zM396.2 676.6h11.3v17.1h-11.3zM396.2 695.5h11.3v5.7h-11.3zM396.2 702.2h11.3v5.7h-11.3zM396.2 708.9h11.3v5.7h-11.3zM396.2 716.6h11.3v18.6h-11.3zM396.2 738.3h11.3v14.4h-11.3zM410.3 633.1h17.0v14.2h-17.0zM410.3 650.3h8.0v9.9h-8.0zM419.3 650.3h8.0v9.9h-8.0zM410.3 663.2h7.7v9.3h-7.7zM419.7 665.5h7.7v5.8h-7.7zM410.3 676.6h17.0v5.0h-17.0zM410.3 682.6h17.0v5.0h-17.0zM410.3 688.7h17.0v5.0h-17.0zM413.7 700.3h7.7v7.7h-7.7zM410.3 738.3h17.0v14.4h-17.0zM429.3 615.1h15.3v16.2h-15.3zM429.3 633.1h15.3v14.2h-15.3zM432.3 652.8h6.9v4.0h-6.9zM429.3 676.6h15.3v5.0h-15.3zM429.3 682.6h15.3v5.0h-15.3zM429.3 688.7h15.3v5.0h-15.3zM429.3 695.5h15.3v19.1h-15.3zM429.3 716.6h15.3v18.6h-15.3zM429.3 738.3h15.3v14.4h-15.3zM429.3 755.8h4.4v14.4h-4.4zM434.7 755.8h4.4v14.4h-4.4zM440.1 755.8h4.4v14.4h-4.4zM446.5 599.7h5.7v10.8h-5.7zM453.5 602.4h5.7v6.7h-5.7zM446.5 633.1h12.6v14.2h-12.6zM446.5 676.6h12.6v17.1h-12.6zM446.5 695.5h12.6v19.1h-12.6zM446.5 738.3h5.7v11.5h-5.7zM453.5 741.2h5.7v7.2h-5.7zM446.5 755.8h12.6v14.4h-12.6zM461.0 599.7h17.7v13.5h-17.7zM461.0 615.1h17.7v16.2h-17.7zM461.0 633.1h17.7v14.2h-17.7zM461.0 650.3h8.4v9.9h-8.4zM470.3 650.3h8.4v9.9h-8.4zM461.0 663.2h8.0v9.3h-8.0zM470.7 665.5h8.0v5.8h-8.0zM461.0 676.6h17.7v17.1h-17.7zM461.0 716.6h17.7v5.5h-17.7zM461.0 723.1h17.7v5.5h-17.7zM461.0 729.7h17.7v5.5h-17.7zM461.0 738.3h17.7v14.4h-17.7zM461.0 755.8h17.7v14.4h-17.7zM461.0 772.2h5.2v17.5h-5.2zM467.2 772.2h5.2v17.5h-5.2zM473.5 772.2h5.2v17.5h-5.2zM481.4 599.7h15.8v13.5h-15.8zM481.4 615.1h15.8v16.2h-15.8zM484.5 636.7h7.1v5.7h-7.1zM481.4 663.2h15.8v11.6h-15.8zM484.5 680.9h7.1v6.9h-7.1zM481.4 716.6h7.1v14.9h-7.1zM490.1 720.3h7.1v9.3h-7.1zM481.4 738.3h15.8v14.4h-15.8zM499.9 633.1h5.3v14.2h-5.3zM506.2 633.1h5.3v14.2h-5.3zM512.5 633.1h5.3v14.2h-5.3zM499.9 650.3h8.5v9.9h-8.5zM509.4 650.3h8.5v9.9h-8.5zM499.9 663.2h18.0v11.6h-18.0zM499.9 695.5h18.0v19.1h-18.0zM499.9 716.6h18.0v18.6h-18.0zM499.9 738.3h5.3v14.4h-5.3zM506.2 738.3h5.3v14.4h-5.3zM512.5 738.3h5.3v14.4h-5.3zM499.9 755.8h8.1v11.5h-8.1zM509.8 758.7h8.1v7.2h-8.1zM499.9 772.2h8.1v14.0h-8.1zM509.8 775.7h8.1v8.7h-8.1zM519.8 615.1h11.6v16.2h-11.6zM519.8 650.3h11.6v9.9h-11.6zM519.8 663.2h11.6v11.6h-11.6zM519.8 676.6h5.2v13.7h-5.2zM526.2 680.0h5.2v8.6h-5.2zM519.8 695.5h11.6v19.1h-11.6zM519.8 716.6h11.6v18.6h-11.6zM519.8 772.2h5.2v14.0h-5.2zM526.2 775.7h5.2v8.7h-5.2zM519.8 791.7h11.6v14.7h-11.6zM533.4 599.7h5.2v13.5h-5.2zM539.6 599.7h5.2v13.5h-5.2zM545.8 599.7h5.2v13.5h-5.2zM533.4 615.1h17.6v16.2h-17.6zM533.4 633.1h8.3v14.2h-8.3zM542.7 633.1h8.3v14.2h-8.3zM533.4 650.3h17.6v9.9h-17.6zM536.9 680.9h7.9v6.9h-7.9zM533.4 695.5h17.6v9.1h-17.6zM533.4 705.6h17.6v9.1h-17.6zM533.4 716.6h17.6v8.8h-17.6zM533.4 726.4h17.6v8.8h-17.6zM533.4 755.8h17.6v14.4h-17.6zM533.4 772.2h7.9v14.0h-7.9zM543.1 775.7h7.9v8.7h-7.9zM533.4 791.7h8.3v14.7h-8.3zM542.7 791.7h8.3v14.7h-8.3zM533.4 808.2h17.6v14.7h-17.6zM552.8 633.1h12.1v6.6h-12.1zM552.8 640.7h12.1v6.6h-12.1zM552.8 650.3h12.1v9.9h-12.1zM552.8 663.2h12.1v11.6h-12.1zM552.8 676.6h12.1v17.1h-12.1zM552.8 695.5h12.1v5.7h-12.1zM552.8 702.2h12.1v5.7h-12.1zM552.8 708.9h12.1v5.7h-12.1zM552.8 772.2h12.1v17.5h-12.1zM552.8 791.7h12.1v14.7h-12.1zM567.2 615.1h14.9v16.2h-14.9zM567.2 633.1h14.9v14.2h-14.9zM567.2 663.2h14.9v11.6h-14.9zM567.2 676.6h6.7v13.7h-6.7zM575.5 680.0h6.7v8.6h-6.7zM567.2 695.5h14.9v19.1h-14.9zM567.2 716.6h14.9v8.8h-14.9zM567.2 726.4h14.9v8.8h-14.9zM567.2 738.3h14.9v14.4h-14.9zM567.2 755.8h4.3v14.4h-4.3zM572.5 755.8h4.3v14.4h-4.3zM577.9 755.8h4.3v14.4h-4.3zM567.2 791.7h14.9v14.7h-14.9zM567.2 808.2h14.9v14.7h-14.9zM567.2 825.2h14.9v15.9h-14.9z"/>
<path fill="#c5c5c5" d="M362.5 695.5h14.7v19.1h-14.7zM362.5 716.6h14.7v18.6h-14.7zM410.3 716.6h17.0v18.6h-17.0zM429.3 663.2h15.3v11.6h-15.3zM446.5 615.1h12.6v16.2h-12.6zM446.5 650.3h12.6v9.9h-12.6zM446.5 663.2h12.6v11.6h-12.6zM446.5 716.6h12.6v5.5h-12.6zM446.5 723.1h12.6v5.5h-12.6zM446.5 729.7h12.6v5.5h-12.6zM461.0 695.5h17.7v19.1h-17.7zM481.4 695.5h15.8v19.1h-15.8zM481.4 772.2h15.8v8.2h-15.8zM481.4 781.5h15.8v8.2h-15.8zM499.9 676.6h18.0v17.1h-18.0zM499.9 791.7h18.0v14.7h-18.0zM519.8 738.3h11.6v14.4h-11.6zM519.8 755.8h11.6v14.4h-11.6zM533.4 663.2h17.6v11.6h-17.6zM533.4 738.3h17.6v14.4h-17.6zM552.8 580.1h12.1v8.3h-12.1zM552.8 589.5h12.1v8.3h-12.1zM552.8 599.7h12.1v13.5h-12.1zM552.8 615.1h12.1v7.6h-12.1zM552.8 623.7h12.1v7.6h-12.1zM552.8 716.6h12.1v18.6h-12.1zM552.8 808.2h12.1v14.7h-12.1zM567.2 650.3h14.9v9.9h-14.9zM567.2 772.2h14.9v8.2h-14.9zM567.2 781.5h14.9v8.2h-14.9z"/>
<path fill="#e2e2e2" d="M410.3 695.5h17.0v19.1h-17.0zM429.3 650.3h15.3v9.9h-15.3zM481.4 633.1h15.8v14.2h-15.8zM481.4 650.3h15.8v9.9h-15.8zM481.4 676.6h15.8v17.1h-15.8zM481.4 755.8h15.8v14.4h-15.8zM499.9 615.1h18.0v16.2h-18.0zM519.8 633.1h11.6v14.2h-11.6zM533.4 676.6h17.6v17.1h-17.6zM552.8 738.3h12.1v14.4h-12.1zM552.8 755.8h12.1v14.4h-12.1z"/>
<path fill="#d6d6d6" d="M399.6 722.2h4.0v6.5h-4.0zM415.4 637.4h6.0v5.0h-6.0zM433.9 722.2h5.3v6.5h-5.3zM450.3 637.4h4.4v5.0h-4.4zM450.3 701.3h4.4v6.7h-4.4zM466.3 620.0h6.2v5.7h-6.2zM466.3 701.3h6.2v6.7h-6.2zM466.3 760.1h6.2v5.0h-6.2zM505.3 681.7h6.3v6.0h-6.3zM556.4 603.7h4.2v4.7h-4.2zM571.7 666.7h5.2v4.1h-5.2z"/>
</g>
<g transform="translate(0.0,0.0) rotate(20,735.0,617.5)">
<path fill="#cbcbcb" d="M614.8 534.4h6.9v5.2h-6.9zM614.8 548.7h6.9v4.0h-6.9zM611.7 575.3h15.4v17.7h-15.4zM611.7 596.0h15.4v10.6h-15.4zM611.7 609.4h6.9v10.1h-6.9zM620.2 612.0h6.9v6.3h-6.9zM611.7 658.7h6.9v9.3h-6.9zM620.2 661.0h6.9v5.8h-6.9zM611.7 672.9h15.4v14.2h-15.4zM633.3 470.9h8.5v5.2h-8.5zM629.6 507.0h18.8v9.4h-18.8zM633.3 521.5h8.5v3.7h-8.5zM629.6 531.1h8.5v10.4h-8.5zM639.9 533.7h8.5v6.5h-8.5zM629.6 546.3h8.5v7.9h-8.5zM639.9 548.2h8.5v5.0h-8.5zM629.6 558.3h18.8v14.7h-18.8zM629.6 596.0h18.8v10.6h-18.8zM629.6 624.1h18.8v19.8h-18.8zM629.6 645.7h18.8v11.2h-18.8zM633.3 661.6h8.5v4.6h-8.5zM629.6 672.9h18.8v14.2h-18.8zM629.6 700.8h8.5v10.4h-8.5zM639.9 703.4h8.5v6.5h-8.5zM650.8 448.2h18.6v16.8h-18.6zM650.8 467.6h18.6v13.1h-18.6zM650.8 482.8h8.4v7.4h-8.4zM661.0 484.6h8.4v4.6h-8.4zM650.8 493.9h8.4v8.9h-8.4zM661.0 496.1h8.4v5.6h-8.4zM650.8 507.0h8.8v9.4h-8.8zM660.6 507.0h8.8v9.4h-8.8zM650.8 519.2h8.4v7.3h-8.4zM661.0 521.0h8.4v4.6h-8.4zM654.5 534.4h8.4v5.2h-8.4zM650.8 546.3h5.5v9.9h-5.5zM657.3 546.3h5.5v9.9h-5.5zM663.8 546.3h5.5v9.9h-5.5zM650.8 558.3h5.5v14.7h-5.5zM657.3 558.3h5.5v14.7h-5.5zM663.8 558.3h5.5v14.7h-5.5zM650.8 575.3h18.6v17.7h-18.6zM650.8 609.4h18.6v12.6h-18.6zM650.8 624.1h18.6v19.8h-18.6zM650.8 645.7h8.4v8.9h-8.4zM661.0 647.9h8.4v5.6h-8.4zM650.8 658.7h18.6v11.6h-18.6zM650.8 672.9h18.6v14.2h-18.6zM650.8 689.7h18.6v9.1h-18.6zM650.8 715.9h18.6v5.8h-18.6zM650.8 722.7h18.6v5.8h-18.6zM650.8 729.5h18.6v5.8h-18.6zM671.1 448.2h10.9v16.8h-10.9zM671.1 467.6h4.9v10.5h-4.9zM677.1 470.2h4.9v6.6h-4.9zM671.1 482.8h10.9v9.3h-10.9zM671.1 493.9h4.9v8.9h-4.9zM677.1 496.1h4.9v5.6h-4.9zM671.1 519.2h10.9v9.2h-10.9zM671.1 531.1h10.9v13.0h-10.9zM671.1 546.3h10.9v9.9h-10.9zM671.1 558.3h10.9v14.7h-10.9zM671.1 575.3h10.9v8.4h-10.9zM671.1 584.7h10.9v8.4h-10.9zM671.1 596.0h4.9v8.5h-4.9zM677.1 598.1h4.9v5.3h-4.9zM673.3 612.6h4.9v5.1h-4.9zM673.3 629.0h4.9v7.9h-4.9zM671.1 645.7h10.9v5.1h-10.9zM671.1 651.7h10.9v5.1h-10.9zM671.1 658.7h10.9v11.6h-10.9zM671.1 672.9h10.9v14.2h-10.9zM671.1 689.7h10.9v9.1h-10.9zM671.1 715.9h10.9v19.3h-10.9zM684.0 448.2h5.5v13.4h-5.5zM690.7 451.5h5.5v8.4h-5.5zM684.0 467.6h12.1v13.1h-12.1zM686.4 485.1h5.5v3.7h-5.5zM684.0 519.2h12.1v9.2h-12.1zM684.0 531.1h5.5v10.4h-5.5zM690.7 533.7h5.5v6.5h-5.5zM684.0 546.3h5.5v7.9h-5.5zM690.7 548.2h5.5v5.0h-5.5zM684.0 609.4h12.1v12.6h-12.1zM684.0 624.1h12.1v19.8h-12.1zM684.0 645.7h12.1v11.2h-12.1zM684.0 672.9h5.5v11.4h-5.5zM690.7 675.7h5.5v7.1h-5.5zM684.0 737.4h12.1v14.6h-12.1zM698.3 448.2h10.9v16.8h-10.9zM698.3 467.6h10.9v3.7h-10.9zM698.3 472.3h10.9v3.7h-10.9zM698.3 477.0h10.9v3.7h-10.9zM698.3 482.8h4.9v7.4h-4.9zM704.3 484.6h4.9v4.6h-4.9zM698.3 507.0h4.9v7.5h-4.9zM704.3 508.9h4.9v4.7h-4.9zM698.3 531.1h10.9v13.0h-10.9zM698.3 546.3h4.9v7.9h-4.9zM704.3 548.2h4.9v5.0h-4.9zM698.3 558.3h10.9v14.7h-10.9zM698.3 575.3h10.9v17.7h-10.9zM700.5 598.6h4.9v4.2h-4.9zM698.3 609.4h10.9v3.5h-10.9zM698.3 614.0h10.9v3.5h-10.9zM698.3 618.5h10.9v3.5h-10.9zM698.3 624.1h10.9v19.8h-10.9zM700.5 661.6h4.9v4.6h-4.9zM698.3 672.9h4.9v11.4h-4.9zM704.3 675.7h4.9v7.1h-4.9zM698.3 689.7h10.9v9.1h-10.9zM698.3 700.8h10.9v13.0h-10.9zM698.3 737.4h10.9v14.6h-10.9zM712.0 429.6h14.6v15.7h-14.6zM712.0 448.2h14.6v4.9h-14.6zM712.0 454.1h14.6v4.9h-14.6zM712.0 460.0h14.6v4.9h-14.6zM712.0 467.6h14.6v13.1h-14.6zM712.0 482.8h14.6v9.3h-14.6zM712.0 493.9h14.6v11.2h-14.6zM712.0 507.0h14.6v9.4h-14.6zM712.0 519.2h14.6v9.2h-14.6zM712.0 531.1h6.8v13.0h-6.8zM719.8 531.1h6.8v13.0h-6.8zM712.0 546.3h14.6v9.9h-14.6zM712.0 558.3h14.6v14.7h-14.6zM712.0 575.3h14.6v17.7h-14.6zM714.9 598.6h6.6v4.2h-6.6zM714.9 612.6h6.6v5.1h-6.6zM712.0 624.1h14.6v19.8h-14.6zM712.0 689.7h14.6v9.1h-14.6zM712.0 700.8h6.6v10.4h-6.6zM720.0 703.4h6.6v6.5h-6.6zM712.0 715.9h6.6v15.5h-6.6zM720.0 719.8h6.6v9.7h-6.6zM712.0 737.4h6.8v14.6h-6.8zM719.8 737.4h6.8v14.6h-6.8zM712.0 754.5h6.6v12.4h-6.6zM720.0 757.6h6.6v7.7h-6.6zM729.1 429.6h15.4v7.4h-15.4zM729.1 438.0h15.4v7.4h-15.4zM729.1 448.2h6.9v13.4h-6.9zM737.6 451.5h6.9v8.4h-6.9zM729.1 482.8h15.4v9.3h-15.4zM729.1 493.9h15.4v11.2h-15.4zM729.1 507.0h6.9v7.5h-6.9zM737.6 508.9h6.9v4.7h-6.9zM729.1 519.2h15.4v9.2h-15.4zM729.1 531.1h15.4v13.0h-15.4zM729.1 546.3h15.4v9.9h-15.4zM729.1 558.3h15.4v14.7h-15.4zM729.1 575.3h15.4v17.7h-15.4zM729.1 596.0h15.4v10.6h-15.4zM729.1 624.1h15.4v19.8h-15.4zM729.1 645.7h15.4v11.2h-15.4zM732.2 661.6h6.9v4.6h-6.9zM729.1 672.9h15.4v14.2h-15.4zM729.1 689.7h15.4v9.1h-15.4zM729.1 700.8h15.4v13.0h-15.4zM729.1 715.9h15.4v19.3h-15.4zM729.1 737.4h15.4v14.6h-15.4zM729.1 754.5h6.9v12.4h-6.9zM737.6 757.6h6.9v7.7h-6.9zM748.2 420.2h4.5v3.8h-4.5zM746.2 448.2h9.9v16.8h-9.9zM746.2 467.6h9.9v13.1h-9.9zM746.2 493.9h4.5v8.9h-4.5zM751.6 496.1h4.5v5.6h-4.5zM746.2 546.3h9.9v9.9h-9.9zM746.2 558.3h9.9v14.7h-9.9zM746.2 575.3h9.9v17.7h-9.9zM746.2 596.0h4.5v8.5h-4.5zM751.6 598.1h4.5v5.3h-4.5zM746.2 609.4h9.9v3.5h-9.9zM746.2 614.0h9.9v3.5h-9.9zM746.2 618.5h9.9v3.5h-9.9zM746.2 624.1h9.9v19.8h-9.9zM746.2 645.7h9.9v11.2h-9.9zM746.2 658.7h9.9v11.6h-9.9zM746.2 672.9h4.5v11.4h-4.5zM751.6 675.7h4.5v7.1h-4.5zM746.2 700.8h9.9v13.0h-9.9zM746.2 737.4h4.5v11.7h-4.5zM751.6 740.3h4.5v7.3h-4.5zM746.2 754.5h4.5v12.4h-4.5zM751.6 757.6h4.5v7.7h-4.5zM746.2 772.6h9.9v18.7h-9.9zM757.9 417.8h4.8v9.5h-4.8zM763.8 417.8h4.8v9.5h-4.8zM769.6 417.8h4.8v9.5h-4.8zM757.9 448.2h16.5v16.8h-16.5zM757.9 467.6h16.5v13.1h-16.5zM757.9 482.8h16.5v9.3h-16.5zM757.9 493.9h16.5v11.2h-16.5zM761.3 509.4h7.4v3.8h-7.4zM757.9 519.2h16.5v9.2h-16.5zM757.9 546.3h16.5v9.9h-16.5zM757.9 558.3h16.5v14.7h-16.5zM757.9 575.3h16.5v17.7h-16.5zM757.9 596.0h7.4v8.5h-7.4zM767.0 598.1h7.4v5.3h-7.4zM757.9 609.4h16.5v12.6h-16.5zM757.9 645.7h16.5v11.2h-16.5zM757.9 672.9h16.5v14.2h-16.5zM757.9 700.8h4.8v13.0h-4.8zM763.8 700.8h4.8v13.0h-4.8zM769.6 700.8h4.8v13.0h-4.8zM757.9 715.9h7.4v15.5h-7.4zM767.0 719.8h7.4v9.7h-7.4zM757.9 737.4h16.5v14.6h-16.5zM757.9 754.5h7.4v12.4h-7.4zM767.0 757.6h7.4v7.7h-7.4zM757.9 772.6h16.5v18.7h-16.5zM776.5 417.8h12.4v9.5h-12.4zM776.5 429.6h5.6v12.6h-5.6zM783.3 432.7h5.6v7.9h-5.6zM776.5 482.8h5.7v9.3h-5.7zM783.2 482.8h5.7v9.3h-5.7zM776.5 493.9h5.7v11.2h-5.7zM783.2 493.9h5.7v11.2h-5.7zM776.5 507.0h12.4v9.4h-12.4zM776.5 519.2h12.4v9.2h-12.4zM776.5 531.1h5.6v10.4h-5.6zM783.3 533.7h5.6v6.5h-5.6zM776.5 546.3h5.7v9.9h-5.7zM783.2 546.3h5.7v9.9h-5.7zM779.0 562.0h5.6v5.9h-5.6zM776.5 596.0h5.6v8.5h-5.6zM783.3 598.1h5.6v5.3h-5.6zM776.5 609.4h12.4v12.6h-12.4zM776.5 624.1h5.6v15.9h-5.6zM783.3 628.0h5.6v9.9h-5.6zM776.5 645.7h12.4v11.2h-12.4zM776.5 658.7h12.4v11.6h-12.4zM776.5 672.9h12.4v6.6h-12.4zM776.5 680.5h12.4v6.6h-12.4zM776.5 689.7h3.5v9.1h-3.5zM781.0 689.7h3.5v9.1h-3.5zM785.4 689.7h3.5v9.1h-3.5zM776.5 700.8h12.4v6.0h-12.4zM776.5 707.8h12.4v6.0h-12.4zM776.5 737.4h5.6v11.7h-5.6zM783.3 740.3h5.6v7.3h-5.6zM776.5 754.5h12.4v4.5h-12.4zM776.5 760.0h12.4v4.5h-12.4zM776.5 765.5h12.4v4.5h-12.4zM791.6 417.8h5.7v7.6h-5.7zM798.5 419.7h5.7v4.8h-5.7zM794.1 433.5h5.7v6.3h-5.7zM791.6 448.2h5.7v13.4h-5.7zM798.5 451.5h5.7v8.4h-5.7zM794.1 470.9h5.7v5.2h-5.7zM791.6 482.8h5.8v9.3h-5.8zM798.4 482.8h5.8v9.3h-5.8zM791.6 507.0h5.7v7.5h-5.7zM798.5 508.9h5.7v4.7h-5.7zM791.6 519.2h5.7v7.3h-5.7zM798.5 521.0h5.7v4.6h-5.7zM791.6 531.1h12.7v13.0h-12.7zM791.6 546.3h12.7v9.9h-12.7zM791.6 558.3h12.7v14.7h-12.7zM791.6 575.3h12.7v17.7h-12.7zM791.6 609.4h5.7v10.1h-5.7zM798.5 612.0h5.7v6.3h-5.7zM791.6 624.1h12.7v5.9h-12.7zM791.6 631.0h12.7v5.9h-12.7zM791.6 638.0h12.7v5.9h-12.7zM791.6 658.7h12.7v11.6h-12.7zM791.6 672.9h12.7v14.2h-12.7zM791.6 689.7h12.7v9.1h-12.7zM791.6 700.8h12.7v13.0h-12.7zM791.6 715.9h12.7v19.3h-12.7zM791.6 754.5h12.7v15.5h-12.7zM807.0 467.6h8.3v13.1h-8.3zM816.3 467.6h8.3v13.1h-8.3zM810.5 485.1h7.9v3.7h-7.9zM807.0 507.0h17.6v9.4h-17.6zM807.0 531.1h8.3v13.0h-8.3zM816.3 531.1h8.3v13.0h-8.3zM807.0 546.3h17.6v9.9h-17.6zM810.5 598.6h7.9v4.2h-7.9zM807.0 609.4h17.6v12.6h-17.6zM807.0 624.1h7.9v15.9h-7.9zM816.6 628.0h7.9v9.9h-7.9zM807.0 645.7h7.9v8.9h-7.9zM816.6 647.9h7.9v5.6h-7.9zM807.0 658.7h17.6v11.6h-17.6zM807.0 672.9h17.6v14.2h-17.6zM807.0 689.7h17.6v9.1h-17.6zM807.0 700.8h8.3v13.0h-8.3zM816.3 700.8h8.3v13.0h-8.3zM807.0 715.9h17.6v19.3h-17.6zM807.0 737.4h17.6v14.6h-17.6zM807.0 754.5h17.6v15.5h-17.6zM829.0 509.4h5.2v3.8h-5.2zM826.7 519.2h11.6v9.2h-11.6zM829.0 534.4h5.2v5.2h-5.2zM829.0 548.7h5.2v4.0h-5.2zM826.7 558.3h5.2v11.8h-5.2zM833.1 561.3h5.2v7.4h-5.2zM826.7 575.3h11.6v17.7h-11.6zM826.7 596.0h5.2v8.5h-5.2zM833.1 598.1h5.2v5.3h-5.2zM826.7 609.4h11.6v12.6h-11.6zM826.7 624.1h5.2v15.9h-5.2zM833.1 628.0h5.2v9.9h-5.2zM826.7 645.7h11.6v11.2h-11.6zM826.7 658.7h5.3v11.6h-5.3zM833.0 658.7h5.3v11.6h-5.3zM829.0 676.4h5.2v5.7h-5.2zM826.7 689.7h11.6v9.1h-11.6zM826.7 700.8h11.6v13.0h-11.6zM826.7 715.9h11.6v19.3h-11.6zM829.0 741.0h5.2v5.8h-5.2zM826.7 754.5h11.6v15.5h-11.6zM843.4 548.7h6.5v4.0h-6.5zM840.5 558.3h14.5v14.7h-14.5zM843.4 579.8h6.5v7.1h-6.5zM840.5 596.0h14.5v10.6h-14.5zM840.5 624.1h14.5v19.8h-14.5zM840.5 645.7h6.5v8.9h-6.5zM848.4 647.9h6.5v5.6h-6.5zM840.5 658.7h6.5v9.3h-6.5zM848.4 661.0h6.5v5.8h-6.5zM840.5 672.9h6.7v14.2h-6.7zM848.2 672.9h6.7v14.2h-6.7zM840.5 689.7h6.5v7.3h-6.5zM848.4 691.5h6.5v4.6h-6.5zM840.5 700.8h14.5v13.0h-14.5zM843.4 720.8h6.5v7.7h-6.5zM860.5 579.8h7.7v7.1h-7.7zM857.0 596.0h17.2v10.6h-17.2zM857.0 609.4h7.7v10.1h-7.7zM866.5 612.0h7.7v6.3h-7.7zM857.0 624.1h17.2v19.8h-17.2zM857.0 645.7h17.2v11.2h-17.2zM857.0 689.7h7.7v7.3h-7.7zM866.5 691.5h7.7v4.6h-7.7zM857.0 700.8h17.2v13.0h-17.2zM876.7 658.7h8.4v9.3h-8.4zM887.0 661.0h8.4v5.8h-8.4z"/>
<path fill="#c5c5c5" d="M629.6 482.8h18.8v9.3h-18.8zM629.6 575.3h18.8v17.7h-18.8zM629.6 609.4h8.9v12.6h-8.9zM639.5 609.4h8.9v12.6h-8.9zM629.6 689.7h18.8v9.1h-18.8zM650.8 596.0h18.6v10.6h-18.6zM650.8 700.8h18.6v13.0h-18.6zM671.1 507.0h10.9v9.4h-10.9zM671.1 700.8h10.9v13.0h-10.9zM684.0 507.0h12.1v9.4h-12.1zM684.0 558.3h12.1v14.7h-12.1zM684.0 575.3h12.1v8.4h-12.1zM684.0 584.7h12.1v8.4h-12.1zM684.0 596.0h12.1v10.6h-12.1zM684.0 658.7h12.1v11.6h-12.1zM684.0 689.7h12.1v9.1h-12.1zM684.0 700.8h12.1v13.0h-12.1zM684.0 715.9h12.1v5.8h-12.1zM684.0 722.7h12.1v5.8h-12.1zM684.0 729.5h12.1v5.8h-12.1zM698.3 493.9h10.9v11.2h-10.9zM698.3 645.7h10.9v11.2h-10.9zM698.3 715.9h10.9v19.3h-10.9zM698.3 754.5h10.9v7.2h-10.9zM698.3 762.7h10.9v7.2h-10.9zM712.0 645.7h14.6v11.2h-14.6zM712.0 658.7h14.6v11.6h-14.6zM712.0 672.9h14.6v14.2h-14.6zM729.1 467.6h15.4v13.1h-15.4zM729.1 609.4h15.4v12.6h-15.4zM729.1 772.6h15.4v18.7h-15.4zM746.2 429.6h9.9v15.7h-9.9zM746.2 482.8h9.9v9.3h-9.9zM746.2 507.0h4.4v9.4h-4.4zM751.6 507.0h4.4v9.4h-4.4zM746.2 519.2h9.9v9.2h-9.9zM746.2 531.1h9.9v13.0h-9.9zM746.2 689.7h9.9v9.1h-9.9zM746.2 715.9h9.9v5.8h-9.9zM746.2 722.7h9.9v5.8h-9.9zM746.2 729.5h9.9v5.8h-9.9zM757.9 429.6h16.5v15.7h-16.5zM757.9 531.1h16.5v13.0h-16.5zM757.9 624.1h16.5v19.8h-16.5zM757.9 658.7h7.8v11.6h-7.8zM766.7 658.7h7.8v11.6h-7.8zM757.9 689.7h7.8v9.1h-7.8zM766.7 689.7h7.8v9.1h-7.8zM776.5 467.6h12.4v6.1h-12.4zM776.5 474.7h12.4v6.1h-12.4zM776.5 575.3h12.4v17.7h-12.4zM776.5 715.9h12.4v19.3h-12.4zM791.6 401.6h12.7v14.1h-12.7zM791.6 493.9h5.8v11.2h-5.8zM798.4 493.9h5.8v11.2h-5.8zM791.6 596.0h12.7v10.6h-12.7zM807.0 448.2h17.6v16.8h-17.6zM807.0 493.9h17.6v11.2h-17.6zM807.0 519.2h17.6v9.2h-17.6zM807.0 558.3h17.6v14.7h-17.6zM807.0 575.3h17.6v17.7h-17.6zM826.7 493.9h11.6v11.2h-11.6zM840.5 531.1h14.5v13.0h-14.5zM840.5 609.4h14.5v12.6h-14.5zM840.5 737.4h14.5v14.6h-14.5zM857.0 658.7h8.1v11.6h-8.1zM866.1 658.7h8.1v11.6h-8.1zM857.0 672.9h17.2v14.2h-17.2zM876.7 645.7h18.7v11.2h-18.7z"/>
<path fill="#e2e2e2" d="M611.7 531.1h15.4v13.0h-15.4zM611.7 546.3h15.4v9.9h-15.4zM611.7 558.3h15.4v14.7h-15.4zM629.6 467.6h18.8v13.1h-18.8zM629.6 493.9h18.8v11.2h-18.8zM629.6 519.2h18.8v9.2h-18.8zM629.6 658.7h18.8v11.6h-18.8zM650.8 531.1h18.6v13.0h-18.6zM671.1 609.4h10.9v12.6h-10.9zM671.1 624.1h10.9v19.8h-10.9zM684.0 482.8h12.1v9.3h-12.1zM684.0 493.9h12.1v11.2h-12.1zM698.3 519.2h10.9v9.2h-10.9zM698.3 596.0h10.9v10.6h-10.9zM698.3 658.7h10.9v11.6h-10.9zM712.0 596.0h14.6v10.6h-14.6zM712.0 609.4h14.6v12.6h-14.6zM729.1 658.7h15.4v11.6h-15.4zM746.2 417.8h9.9v9.5h-9.9zM757.9 507.0h16.5v9.4h-16.5zM776.5 448.2h12.4v16.8h-12.4zM776.5 558.3h12.4v14.7h-12.4zM776.5 772.6h12.4v18.7h-12.4zM791.6 429.6h12.7v15.7h-12.7zM791.6 467.6h12.7v13.1h-12.7zM791.6 645.7h12.7v11.2h-12.7zM791.6 737.4h12.7v14.6h-12.7zM791.6 772.6h12.7v18.7h-12.7zM807.0 482.8h17.6v9.3h-17.6zM807.0 596.0h17.6v10.6h-17.6zM826.7 507.0h11.6v9.4h-11.6zM826.7 531.1h11.6v13.0h-11.6zM826.7 546.3h11.6v9.9h-11.6zM826.7 672.9h11.6v14.2h-11.6zM826.7 737.4h11.6v14.6h-11.6zM840.5 546.3h14.5v9.9h-14.5zM840.5 575.3h14.5v17.7h-14.5zM840.5 715.9h14.5v19.3h-14.5zM857.0 575.3h17.2v17.7h-17.2zM857.0 715.9h17.2v19.3h-17.2z"/>
<path fill="#d6d6d6" d="M635.2 677.2h6.6v5.0h-6.6zM674.4 704.7h3.8v4.6h-3.8zM674.4 721.7h3.8v6.8h-3.8zM701.6 721.7h3.8v6.8h-3.8zM733.7 778.2h5.4v6.5h-5.4zM762.9 741.8h5.8v5.1h-5.8zM795.4 535.0h4.4v4.6h-4.4zM795.4 759.1h4.4v5.4h-4.4zM812.3 497.2h6.2v3.9h-6.2zM812.3 613.2h6.2v4.4h-6.2z"/>
</g>
<g transform="translate(0.0,0.0) rotate(-3,895.0,510.0)">
<path fill="#cbcbcb" d="M861.7 410.4h2.7v9.8h-2.7zM864.9 412.8h2.7v6.1h-2.7zM861.7 425.0h6.0v12.7h-6.0zM861.7 440.1h2.7v4.6h-2.7zM864.9 441.3h2.7v2.9h-2.7zM861.7 448.1h6.0v8.7h-6.0zM861.7 459.7h2.7v6.3h-2.7zM864.9 461.3h2.7v3.9h-2.7zM861.7 481.5h2.5v5.7h-2.5zM865.1 481.5h2.5v5.7h-2.5zM861.7 489.3h6.0v2.3h-6.0zM861.7 492.5h6.0v2.3h-6.0zM861.7 495.8h6.0v2.3h-6.0zM861.7 500.2h2.7v6.5h-2.7zM864.9 501.8h2.7v4.1h-2.7zM861.7 566.1h2.7v7.0h-2.7zM864.9 567.9h2.7v4.3h-2.7zM861.7 595.2h2.7v8.7h-2.7zM864.9 597.4h2.7v5.4h-2.7zM861.7 608.1h6.0v10.7h-6.0zM861.7 621.8h6.0v4.8h-6.0zM861.7 642.7h6.0v4.8h-6.0zM862.8 652.8h2.7v4.7h-2.7zM862.8 667.2h2.7v4.7h-2.7zM861.7 679.1h2.5v5.2h-2.5zM865.1 679.1h2.5v5.2h-2.5zM861.7 687.4h6.0v8.8h-6.0zM872.5 370.9h3.3v5.2h-3.3zM871.1 382.4h3.3v9.4h-3.3zM875.1 384.8h3.3v5.9h-3.3zM871.1 410.4h3.3v9.8h-3.3zM875.1 412.8h3.3v6.1h-3.3zM872.5 428.2h3.3v5.1h-3.3zM871.1 440.1h3.3v4.6h-3.3zM875.1 441.3h3.3v2.9h-3.3zM871.1 448.1h3.3v7.0h-3.3zM875.1 449.9h3.3v4.3h-3.3zM872.5 461.7h3.3v3.2h-3.3zM871.1 481.5h7.3v5.7h-7.3zM871.1 500.2h3.3v6.5h-3.3zM875.1 501.8h3.3v4.1h-3.3zM871.1 511.5h7.3v8.8h-7.3zM871.1 523.3h3.3v6.5h-3.3zM875.1 524.9h3.3v4.0h-3.3zM872.5 544.3h3.3v3.5h-3.3zM871.1 566.1h7.3v8.7h-7.3zM872.5 588.9h3.3v2.1h-3.3zM871.1 595.2h7.3v10.8h-7.3zM871.1 608.1h7.3v4.9h-7.3zM871.1 614.0h7.3v4.9h-7.3zM871.1 621.8h3.3v3.9h-3.3zM875.1 622.7h3.3v2.4h-3.3zM871.1 629.8h3.3v8.5h-3.3zM875.1 631.9h3.3v5.3h-3.3zM872.5 643.9h3.3v1.9h-3.3zM871.1 649.8h7.3v5.4h-7.3zM871.1 656.3h7.3v5.4h-7.3zM871.1 664.2h7.3v11.8h-7.3zM871.1 687.4h7.3v8.8h-7.3zM881.5 322.6h12.0v6.0h-12.0zM881.5 329.6h12.0v6.0h-12.0zM881.5 338.3h12.0v3.7h-12.0zM881.5 367.6h5.4v10.4h-5.4zM888.2 370.2h5.4v6.5h-5.4zM881.5 382.4h12.0v11.7h-12.0zM881.5 396.8h5.4v8.6h-5.4zM888.2 398.9h5.4v5.4h-5.4zM881.5 410.4h5.4v9.8h-5.4zM888.2 412.8h5.4v6.1h-5.4zM881.5 425.0h12.0v12.7h-12.0zM884.0 441.6h5.4v2.3h-5.4zM881.5 448.1h5.4v7.0h-5.4zM888.2 449.9h5.4v4.3h-5.4zM881.5 459.7h12.0v7.9h-12.0zM884.0 482.9h5.4v2.3h-5.4zM881.5 489.3h12.0v8.8h-12.0zM881.5 500.2h12.0v8.1h-12.0zM881.5 542.1h5.4v7.0h-5.4zM888.2 543.8h5.4v4.4h-5.4zM881.5 552.9h12.0v10.4h-12.0zM881.5 566.1h12.0v8.7h-12.0zM881.5 587.7h12.0v5.1h-12.0zM884.0 610.8h5.4v4.3h-5.4zM881.5 621.8h12.0v4.8h-12.0zM881.5 629.8h3.3v10.6h-3.3zM885.9 629.8h3.3v10.6h-3.3zM890.2 629.8h3.3v10.6h-3.3zM881.5 642.7h5.4v3.8h-5.4zM888.2 643.7h5.4v2.4h-5.4zM881.5 649.8h3.3v11.9h-3.3zM885.9 649.8h3.3v11.9h-3.3zM890.2 649.8h3.3v11.9h-3.3zM881.5 664.2h12.0v11.8h-12.0zM881.5 687.4h12.0v8.8h-12.0zM895.9 338.3h7.3v3.7h-7.3zM895.9 344.8h7.3v7.8h-7.3zM895.9 354.8h3.3v8.7h-3.3zM899.9 357.0h3.3v5.4h-3.3zM895.9 367.6h7.3v13.0h-7.3zM895.9 382.4h7.3v11.7h-7.3zM897.3 413.4h3.3v4.9h-3.3zM895.9 425.0h3.3v10.1h-3.3zM899.9 427.5h3.3v6.3h-3.3zM895.9 440.1h7.3v5.8h-7.3zM897.3 450.3h3.3v3.5h-3.3zM895.9 459.7h7.3v7.9h-7.3zM895.9 470.5h7.3v8.9h-7.3zM895.9 489.3h7.3v2.3h-7.3zM895.9 492.5h7.3v2.3h-7.3zM895.9 495.8h7.3v2.3h-7.3zM895.9 500.2h3.3v6.5h-3.3zM899.9 501.8h3.3v4.1h-3.3zM895.9 511.5h7.3v8.8h-7.3zM895.9 533.3h7.3v6.9h-7.3zM895.9 542.1h7.3v8.7h-7.3zM897.3 555.5h3.3v4.2h-3.3zM895.9 566.1h7.3v8.7h-7.3zM895.9 577.5h7.3v7.8h-7.3zM895.9 587.7h7.3v5.1h-7.3zM895.9 595.2h7.3v4.9h-7.3zM895.9 601.1h7.3v4.9h-7.3zM895.9 621.8h3.3v3.9h-3.3zM899.9 622.7h3.3v2.4h-3.3zM895.9 629.8h3.3v8.5h-3.3zM899.9 631.9h3.3v5.3h-3.3zM895.9 642.7h3.3v3.8h-3.3zM899.9 643.7h3.3v2.4h-3.3zM895.9 679.1h3.3v4.1h-3.3zM899.9 680.2h3.3v2.6h-3.3zM895.9 687.4h3.3v7.0h-3.3zM899.9 689.2h3.3v4.4h-3.3zM905.7 322.6h5.6v13.0h-5.6zM905.7 338.3h5.6v3.7h-5.6zM906.8 346.8h2.5v3.1h-2.5zM905.7 354.8h5.6v10.9h-5.6zM906.8 413.4h2.5v4.9h-2.5zM905.7 425.0h5.6v3.6h-5.6zM905.7 429.6h5.6v3.6h-5.6zM905.7 434.1h5.6v3.6h-5.6zM905.7 440.1h2.5v4.6h-2.5zM908.8 441.3h2.5v2.9h-2.5zM905.7 448.1h2.5v7.0h-2.5zM908.8 449.9h2.5v4.3h-2.5zM905.7 481.5h5.6v5.7h-5.6zM905.7 511.5h5.6v8.8h-5.6zM905.7 523.3h5.6v8.1h-5.6zM905.7 542.1h5.6v8.7h-5.6zM905.7 552.9h5.6v10.4h-5.6zM905.7 566.1h5.6v8.7h-5.6zM906.8 579.4h2.5v3.1h-2.5zM905.7 587.7h2.5v4.1h-2.5zM908.8 588.7h2.5v2.6h-2.5zM905.7 608.1h5.6v4.9h-5.6zM905.7 614.0h5.6v4.9h-5.6zM905.7 621.8h5.6v4.8h-5.6zM905.7 629.8h5.6v4.8h-5.6zM905.7 635.6h5.6v4.8h-5.6zM905.7 642.7h2.5v3.8h-2.5zM908.8 643.7h2.5v2.4h-2.5zM905.7 649.8h5.6v5.4h-5.6zM905.7 656.3h5.6v5.4h-5.6zM905.7 664.2h2.5v9.4h-2.5zM908.8 666.6h2.5v5.9h-2.5zM905.7 679.1h2.5v4.1h-2.5zM908.8 680.2h2.5v2.6h-2.5zM913.7 322.6h5.4v13.0h-5.4zM913.7 338.3h2.4v3.0h-2.4zM916.7 339.0h2.4v1.9h-2.4zM913.7 344.8h2.4v6.3h-2.4zM916.7 346.4h2.4v3.9h-2.4zM913.7 354.8h5.4v10.9h-5.4zM913.7 367.6h5.4v3.7h-5.4zM913.7 372.3h5.4v3.7h-5.4zM913.7 376.9h5.4v3.7h-5.4zM913.7 382.4h5.4v11.7h-5.4zM913.7 396.8h5.4v10.8h-5.4zM913.7 410.4h5.4v12.3h-5.4zM914.8 428.2h2.4v5.1h-2.4zM913.7 440.1h5.4v1.3h-5.4zM913.7 442.4h5.4v1.3h-5.4zM913.7 444.6h5.4v1.3h-5.4zM913.7 448.1h5.4v8.7h-5.4zM913.7 459.7h5.4v7.9h-5.4zM914.8 472.8h2.4v3.6h-2.4zM913.7 481.5h2.4v4.6h-2.4zM916.7 482.7h2.4v2.9h-2.4zM913.7 500.2h2.4v6.5h-2.4zM916.7 501.8h2.4v4.1h-2.4zM913.7 511.5h5.4v8.8h-5.4zM914.8 525.3h2.4v3.2h-2.4zM913.7 542.1h2.4v7.0h-2.4zM916.7 543.8h2.4v4.4h-2.4zM913.7 552.9h5.4v10.4h-5.4zM913.7 566.1h2.4v7.0h-2.4zM916.7 567.9h2.4v4.3h-2.4zM913.7 587.7h5.4v5.1h-5.4zM913.7 595.2h2.4v8.7h-2.4zM916.7 597.4h2.4v5.4h-2.4zM913.7 608.1h2.4v8.6h-2.4zM916.7 610.2h2.4v5.4h-2.4zM913.7 621.8h2.4v3.9h-2.4zM916.7 622.7h2.4v2.4h-2.4zM913.7 629.8h5.4v2.9h-5.4zM913.7 633.7h5.4v2.9h-5.4zM913.7 637.5h5.4v2.9h-5.4zM913.7 642.7h2.4v3.8h-2.4zM916.7 643.7h2.4v2.4h-2.4zM913.7 679.1h2.2v5.2h-2.2zM916.9 679.1h2.2v5.2h-2.2zM913.7 687.4h2.4v7.0h-2.4zM916.7 689.2h2.4v4.4h-2.4zM924.2 339.2h3.6v1.5h-3.6zM922.6 344.8h3.6v6.3h-3.6zM927.0 346.4h3.6v3.9h-3.6zM922.6 354.8h7.9v10.9h-7.9zM924.2 370.9h3.6v5.2h-3.6zM922.6 382.4h7.9v3.2h-7.9zM922.6 386.7h7.9v3.2h-7.9zM922.6 390.9h7.9v3.2h-7.9zM922.6 396.8h3.6v8.6h-3.6zM927.0 398.9h3.6v5.4h-3.6zM922.6 679.1h2.0v5.2h-2.0zM925.6 679.1h2.0v5.2h-2.0zM928.6 679.1h2.0v5.2h-2.0zM922.6 687.4h7.9v2.3h-7.9zM922.6 690.7h7.9v2.3h-7.9zM922.6 693.9h7.9v2.3h-7.9z"/>
<path fill="#c5c5c5" d="M861.7 470.5h6.0v2.3h-6.0zM861.7 473.8h6.0v2.3h-6.0zM861.7 477.1h6.0v2.3h-6.0zM861.7 577.5h6.0v7.8h-6.0zM861.7 587.7h6.0v5.1h-6.0zM861.7 629.8h6.0v10.6h-6.0zM871.1 354.8h7.3v4.9h-7.3zM871.1 360.8h7.3v4.9h-7.3zM871.1 679.1h7.3v5.2h-7.3zM881.5 354.8h12.0v10.9h-12.0zM881.5 533.3h12.0v6.9h-12.0zM881.5 577.5h12.0v7.8h-12.0zM881.5 595.2h12.0v10.8h-12.0zM895.9 396.8h7.3v4.9h-7.3zM895.9 402.7h7.3v4.9h-7.3zM895.9 481.5h3.2v5.7h-3.2zM900.0 481.5h3.2v5.7h-3.2zM895.9 523.3h7.3v8.1h-7.3zM895.9 664.2h7.3v11.8h-7.3zM905.7 367.6h5.6v13.0h-5.6zM905.7 382.4h5.6v11.7h-5.6zM905.7 459.7h5.6v7.9h-5.6zM905.7 470.5h5.6v8.9h-5.6zM905.7 489.3h5.6v8.8h-5.6zM905.7 500.2h5.6v8.1h-5.6zM905.7 595.2h5.6v10.8h-5.6zM905.7 687.4h5.6v8.8h-5.6zM913.7 489.3h5.4v8.8h-5.4zM913.7 533.3h5.4v6.9h-5.4zM913.7 577.5h5.4v3.4h-5.4zM913.7 581.9h5.4v3.4h-5.4zM913.7 649.8h5.4v11.9h-5.4zM913.7 664.2h5.4v11.8h-5.4zM922.6 322.6h7.9v13.0h-7.9z"/>
<path fill="#e2e2e2" d="M861.7 649.8h6.0v11.9h-6.0zM861.7 664.2h6.0v11.8h-6.0zM871.1 367.6h7.3v13.0h-7.3zM871.1 396.8h7.3v10.8h-7.3zM871.1 425.0h7.3v12.7h-7.3zM871.1 459.7h7.3v7.9h-7.3zM871.1 470.5h7.3v8.9h-7.3zM871.1 489.3h7.3v8.8h-7.3zM871.1 533.3h7.3v6.9h-7.3zM871.1 542.1h7.3v8.7h-7.3zM871.1 552.9h7.3v10.4h-7.3zM871.1 577.5h7.3v7.8h-7.3zM871.1 587.7h7.3v5.1h-7.3zM871.1 642.7h7.3v4.8h-7.3zM881.5 344.8h12.0v7.8h-12.0zM881.5 440.1h12.0v5.8h-12.0zM881.5 470.5h12.0v8.9h-12.0zM881.5 481.5h12.0v5.7h-12.0zM881.5 511.5h12.0v8.8h-12.0zM881.5 523.3h12.0v8.1h-12.0zM881.5 608.1h12.0v10.7h-12.0zM881.5 679.1h12.0v5.2h-12.0zM895.9 322.6h7.3v13.0h-7.3zM895.9 410.4h7.3v12.3h-7.3zM895.9 448.1h7.3v8.7h-7.3zM895.9 552.9h7.3v10.4h-7.3zM895.9 608.1h7.3v10.7h-7.3zM895.9 649.8h7.3v11.9h-7.3zM905.7 344.8h5.6v7.8h-5.6zM905.7 396.8h5.6v10.8h-5.6zM905.7 410.4h5.6v12.3h-5.6zM905.7 533.3h5.6v6.9h-5.6zM905.7 577.5h5.6v7.8h-5.6zM913.7 425.0h5.4v12.7h-5.4zM913.7 470.5h5.4v8.9h-5.4zM913.7 523.3h5.4v8.1h-5.4zM922.6 338.3h7.9v3.7h-7.9zM922.6 367.6h7.9v13.0h-7.9zM922.6 664.2h7.9v11.8h-7.9z"/>
</g>
<g transform="translate(0.0,0.0) rotate(25,100.5,597.5)">
<path fill="#cbcbcb" d="M20.3 586.8h17.3v10.4h-17.3zM20.3 599.1h17.3v8.8h-17.3zM39.5 571.4h13.4v13.5h-13.4zM39.5 586.8h13.4v10.4h-13.4zM39.5 599.1h6.1v7.0h-6.1zM46.9 600.8h6.1v4.4h-6.1zM39.5 609.7h13.4v8.5h-13.4zM39.5 621.2h6.1v8.6h-6.1zM46.9 623.3h6.1v5.4h-6.1zM39.5 635.0h3.8v12.3h-3.8zM44.3 635.0h3.8v12.3h-3.8zM49.1 635.0h3.8v12.3h-3.8zM57.1 574.8h3.1v5.4h-3.1zM55.7 586.8h7.0v2.8h-7.0zM55.7 590.6h7.0v2.8h-7.0zM55.7 594.4h7.0v2.8h-7.0zM55.7 599.1h7.0v3.9h-7.0zM55.7 604.0h7.0v3.9h-7.0zM55.7 609.7h7.0v8.5h-7.0zM65.4 599.1h15.1v8.8h-15.1zM65.4 609.7h6.8v6.8h-6.8zM73.7 611.4h6.8v4.3h-6.8zM65.4 635.0h6.8v9.8h-6.8zM73.7 637.5h6.8v6.1h-6.8zM82.3 555.8h15.5v12.9h-15.5zM82.3 571.4h15.5v13.5h-15.5zM82.3 586.8h15.5v10.4h-15.5zM82.3 599.1h15.5v8.8h-15.5zM82.3 621.2h15.5v10.8h-15.5zM99.5 555.8h4.8v10.3h-4.8zM105.4 558.4h4.8v6.5h-4.8zM99.5 571.4h10.7v3.8h-10.7zM99.5 576.2h10.7v3.8h-10.7zM99.5 581.0h10.7v3.8h-10.7zM99.5 609.7h10.7v8.5h-10.7zM99.5 621.2h10.7v10.8h-10.7zM112.2 536.1h12.7v17.4h-12.7zM112.2 555.8h5.7v10.3h-5.7zM119.2 558.4h5.7v6.5h-5.7zM112.2 586.8h5.7v8.3h-5.7zM119.2 588.9h5.7v5.2h-5.7zM112.2 599.1h5.7v7.0h-5.7zM119.2 600.8h5.7v4.4h-5.7zM112.2 609.7h12.7v8.5h-12.7zM112.2 621.2h5.7v8.6h-5.7zM119.2 623.3h5.7v5.4h-5.7zM128.1 536.1h11.9v8.2h-11.9zM128.1 545.2h11.9v8.2h-11.9zM128.1 571.4h11.9v13.5h-11.9zM128.1 609.7h5.4v6.8h-5.4zM134.7 611.4h5.4v4.3h-5.4zM128.1 621.2h5.5v10.8h-5.5zM134.6 621.2h5.5v10.8h-5.5zM143.1 555.8h11.6v12.9h-11.6zM143.1 571.4h11.6v13.5h-11.6zM145.5 601.3h5.2v3.5h-5.2zM143.1 609.7h11.6v8.5h-11.6zM143.1 621.2h11.6v10.8h-11.6zM156.8 571.4h9.2v13.5h-9.2zM156.8 586.8h9.2v10.4h-9.2zM156.8 609.7h9.2v8.5h-9.2z"/>
<path fill="#c5c5c5" d="M20.3 571.4h17.3v13.5h-17.3zM55.7 621.2h7.0v10.8h-7.0zM65.4 586.8h15.1v10.4h-15.1zM82.3 609.7h4.5v8.5h-4.5zM87.8 609.7h4.5v8.5h-4.5zM93.3 609.7h4.5v8.5h-4.5zM82.3 635.0h15.5v12.3h-15.5zM99.5 586.8h10.7v10.4h-10.7zM99.5 599.1h4.8v8.8h-4.8zM105.4 599.1h4.8v8.8h-4.8zM112.2 571.4h12.7v13.5h-12.7zM128.1 599.1h11.9v8.8h-11.9zM156.8 599.1h9.2v8.8h-9.2z"/>
<path fill="#e2e2e2" d="M55.7 571.4h7.0v13.5h-7.0zM55.7 635.0h7.0v12.3h-7.0zM65.4 571.4h15.1v13.5h-15.1zM65.4 621.2h15.1v10.8h-15.1zM128.1 525.9h11.9v8.3h-11.9zM128.1 555.8h11.9v12.9h-11.9zM128.1 586.8h11.9v10.4h-11.9zM143.1 586.8h11.6v10.4h-11.6zM143.1 599.1h11.6v8.8h-11.6z"/>
<path fill="#d6d6d6" d="M25.5 575.4h6.1v4.7h-6.1zM25.5 590.0h6.1v3.6h-6.1z"/>
</g>
<g transform="translate(0.0,0.0) rotate(20,79.5,507.0)">
<path fill="#cbcbcb" d="M30.1 501.7h5.1v3.5h-5.1zM44.0 473.5h3.7v3.6h-3.7zM44.0 487.2h3.7v5.4h-3.7zM42.4 510.5h3.7v8.9h-3.7zM46.9 512.7h3.7v5.6h-3.7zM42.4 533.7h3.6v6.9h-3.6zM47.0 533.7h3.6v6.9h-3.6zM42.4 543.7h3.7v9.8h-3.7zM46.9 546.2h3.7v6.1h-3.7zM53.8 471.2h3.2v7.3h-3.2zM57.7 473.0h3.2v4.6h-3.2zM53.8 483.8h3.2v10.8h-3.2zM57.7 486.5h3.2v6.7h-3.2zM53.8 510.5h7.0v11.2h-7.0zM53.8 523.8h7.0v6.9h-7.0zM53.8 533.7h3.2v5.5h-3.2zM57.7 535.1h3.2v3.5h-3.2zM53.8 543.7h3.2v9.8h-3.2zM57.7 546.2h3.2v6.1h-3.2zM63.2 471.2h3.0v7.3h-3.0zM66.9 473.0h3.0v4.6h-3.0zM64.5 487.2h3.0v5.4h-3.0zM63.2 499.5h3.0v7.0h-3.0zM66.9 501.2h3.0v4.4h-3.0zM63.2 510.5h6.7v11.2h-6.7zM63.2 523.8h3.0v5.6h-3.0zM66.9 525.2h3.0v3.5h-3.0zM63.2 533.7h6.7v6.9h-6.7zM63.2 543.7h3.0v9.8h-3.0zM66.9 546.2h3.0v6.1h-3.0zM73.6 473.5h2.7v3.6h-2.7zM72.4 483.8h2.7v10.8h-2.7zM75.7 486.5h2.7v6.7h-2.7zM72.4 499.5h2.7v7.0h-2.7zM75.7 501.2h2.7v4.4h-2.7zM73.6 525.5h2.7v2.8h-2.7zM73.6 535.5h2.7v2.8h-2.7zM82.1 473.5h2.8v3.6h-2.8zM82.1 487.2h2.8v5.4h-2.8zM82.1 501.7h2.8v3.5h-2.8zM80.9 510.5h2.8v8.9h-2.8zM84.3 512.7h2.8v5.6h-2.8zM80.9 523.8h2.8v5.6h-2.8zM84.3 525.2h2.8v3.5h-2.8zM82.1 535.5h2.8v2.8h-2.8zM90.2 471.2h6.9v9.1h-6.9zM91.5 487.2h3.1v5.4h-3.1zM90.2 499.5h3.1v7.0h-3.1zM94.0 501.2h3.1v4.4h-3.1zM90.2 510.5h3.1v8.9h-3.1zM94.0 512.7h3.1v5.6h-3.1zM90.2 523.8h6.9v6.9h-6.9zM91.5 535.5h3.1v2.8h-3.1zM102.4 461.0h5.8v3.7h-5.8zM99.8 471.2h6.0v9.1h-6.0zM106.8 471.2h6.0v9.1h-6.0zM99.8 483.8h5.8v10.8h-5.8zM107.0 486.5h5.8v6.7h-5.8zM102.4 501.7h5.8v3.5h-5.8zM99.8 510.5h5.8v8.9h-5.8zM107.0 512.7h5.8v5.6h-5.8zM99.8 523.8h5.8v5.6h-5.8zM107.0 525.2h5.8v3.5h-5.8zM99.8 533.7h13.0v6.9h-13.0zM115.0 483.8h2.7v10.8h-2.7zM118.2 486.5h2.7v6.7h-2.7zM115.0 499.5h2.7v7.0h-2.7zM118.2 501.2h2.7v4.4h-2.7zM115.0 510.5h2.7v8.9h-2.7zM118.2 512.7h2.7v5.6h-2.7zM116.2 525.5h2.7v2.8h-2.7zM116.2 535.5h2.7v2.8h-2.7zM123.1 499.5h4.6v7.0h-4.6zM128.7 501.2h4.6v4.4h-4.6zM123.1 510.5h4.6v8.9h-4.6zM128.7 512.7h4.6v5.6h-4.6zM125.2 525.5h4.6v2.8h-4.6z"/>
<path fill="#c5c5c5" d="M42.4 499.5h8.2v8.8h-8.2zM72.4 510.5h6.0v3.1h-6.0zM72.4 514.5h6.0v3.1h-6.0zM72.4 518.6h6.0v3.1h-6.0z"/>
<path fill="#e2e2e2" d="M27.9 483.8h11.2v13.5h-11.2zM27.9 499.5h11.2v8.8h-11.2zM27.9 510.5h11.2v11.2h-11.2zM42.4 471.2h8.2v9.1h-8.2zM42.4 483.8h8.2v13.5h-8.2zM42.4 523.8h8.2v6.9h-8.2zM53.8 499.5h7.0v8.8h-7.0zM63.2 483.8h6.7v13.5h-6.7zM72.4 471.2h6.0v9.1h-6.0zM72.4 523.8h6.0v6.9h-6.0zM72.4 533.7h6.0v6.9h-6.0zM80.9 471.2h6.2v9.1h-6.2zM80.9 483.8h6.2v13.5h-6.2zM80.9 499.5h6.2v8.8h-6.2zM80.9 533.7h6.2v6.9h-6.2zM90.2 483.8h6.9v13.5h-6.9zM90.2 533.7h6.9v6.9h-6.9zM99.8 458.6h13.0v9.3h-13.0zM99.8 499.5h13.0v8.8h-13.0zM115.0 523.8h5.9v6.9h-5.9zM115.0 533.7h5.9v6.9h-5.9zM123.1 523.8h10.2v6.9h-10.2z"/>
</g>
<g transform="translate(0.0,0.0) rotate(-60,131.5,713.0)">
<path fill="#cbcbcb" d="M52.6 736.3h7.2v14.1h-7.2zM61.4 739.9h7.2v8.8h-7.2zM72.2 716.3h9.9v17.2h-9.9zM72.2 757.2h9.9v11.3h-9.9zM72.2 771.0h9.9v21.0h-9.9zM85.7 675.3h9.9v16.2h-9.9zM97.8 679.3h9.9v10.1h-9.9zM85.7 697.7h22.0v16.5h-22.0zM85.7 716.3h9.9v13.7h-9.9zM97.8 719.8h9.9v8.6h-9.9zM85.7 736.3h22.0v17.7h-22.0zM85.7 757.2h22.0v11.3h-22.0zM85.7 771.0h22.0v21.0h-22.0zM85.7 794.3h22.0v14.8h-22.0zM85.7 811.4h9.9v10.2h-9.9zM97.8 814.0h9.9v6.4h-9.9zM109.9 638.8h19.8v13.1h-19.8zM109.9 655.6h19.8v17.5h-19.8zM113.9 680.3h8.9v8.1h-8.9zM109.9 697.7h8.9v13.2h-8.9zM120.8 701.0h8.9v8.3h-8.9zM109.9 716.3h19.8v17.2h-19.8zM109.9 736.3h5.9v17.7h-5.9zM116.8 736.3h5.9v17.7h-5.9zM123.8 736.3h5.9v17.7h-5.9zM109.9 757.2h9.4v11.3h-9.4zM120.3 757.2h9.4v11.3h-9.4zM109.9 771.0h8.9v16.8h-8.9zM120.8 775.2h8.9v10.5h-8.9zM109.9 794.3h19.8v14.8h-19.8zM132.1 606.6h6.5v9.4h-6.5zM140.0 609.0h6.5v5.9h-6.5zM132.1 620.4h14.4v15.0h-14.4zM134.9 642.1h6.5v5.2h-6.5zM132.1 655.6h6.5v14.0h-6.5zM140.0 659.1h6.5v8.7h-6.5zM132.1 675.3h14.4v20.2h-14.4zM132.1 697.7h14.4v16.5h-14.4zM134.9 740.8h6.5v7.1h-6.5zM132.1 757.2h4.1v11.3h-4.1zM137.2 757.2h4.1v11.3h-4.1zM142.3 757.2h4.1v11.3h-4.1zM152.3 592.0h8.0v6.5h-8.0zM148.7 638.8h17.7v13.1h-17.7zM148.7 655.6h8.4v17.5h-8.4zM158.1 655.6h8.4v17.5h-8.4zM148.7 675.3h17.7v9.6h-17.7zM148.7 685.9h17.7v9.6h-17.7zM152.3 701.8h8.0v6.6h-8.0zM152.3 720.6h8.0v6.9h-8.0zM148.7 736.3h5.2v17.7h-5.2zM155.0 736.3h5.2v17.7h-5.2zM161.2 736.3h5.2v17.7h-5.2zM169.9 655.6h15.6v17.5h-15.6zM169.9 675.3h7.0v16.2h-7.0zM178.5 679.3h7.0v10.1h-7.0zM169.9 697.7h15.6v16.5h-15.6zM191.4 701.8h4.9v6.6h-4.9zM202.9 697.7h10.0v16.5h-10.0zM213.9 697.7h10.0v16.5h-10.0z"/>
<path fill="#c5c5c5" d="M148.7 606.6h17.7v11.7h-17.7zM148.7 620.4h5.2v15.0h-5.2zM155.0 620.4h5.2v15.0h-5.2zM161.2 620.4h5.2v15.0h-5.2zM169.9 716.3h15.6v5.1h-15.6zM169.9 722.4h15.6v5.1h-15.6zM169.9 728.5h15.6v5.1h-15.6z"/>
<path fill="#e2e2e2" d="M72.2 736.3h9.9v17.7h-9.9zM109.9 675.3h19.8v20.2h-19.8zM132.1 638.8h14.4v13.1h-14.4zM132.1 716.3h14.4v17.2h-14.4zM132.1 736.3h14.4v17.7h-14.4zM148.7 587.9h17.7v16.3h-17.7zM148.7 697.7h17.7v16.5h-17.7zM148.7 716.3h17.7v17.2h-17.7zM189.2 697.7h10.9v16.5h-10.9z"/>
<path fill="#d6d6d6" d="M136.4 702.6h5.0v5.8h-5.0z"/>
</g>
<polygon points="362.0,503.0 420.0,486.0 470.0,492.0 500.0,530.0 505.0,578.0 484.0,620.0 430.0,632.0 380.0,610.0 356.0,560.0" fill="#cbcbcb" stroke="#f2f2f2" stroke-width="4" stroke-linejoin="round"/>
<polyline points="449.9,503.0 457.2,511.5" fill="none" stroke="#e2e2e2" stroke-width="1.1" stroke-linejoin="round" stroke-linecap="round" />
<polyline points="462.1,581.2 453.4,584.3" fill="none" stroke="#e2e2e2" stroke-width="1.1" stroke-linejoin="round" stroke-linecap="round" />
<polyline points="422.7,503.6 434.4,513.1" fill="none" stroke="#e2e2e2" stroke-width="1.1" stroke-linejoin="round" stroke-linecap="round" />
<polyline points="373.3,523.9 366.2,537.8" fill="none" stroke="#e2e2e2" stroke-width="1.1" stroke-linejoin="round" stroke-linecap="round" />
<polyline points="397.6,570.7 390.9,575.3" fill="none" stroke="#e2e2e2" stroke-width="1.1" stroke-linejoin="round" stroke-linecap="round" />
<polyline points="470.7,583.8 475.6,592.7" fill="none" stroke="#e2e2e2" stroke-width="1.1" stroke-linejoin="round" stroke-linecap="round" />
<polyline points="489.7,540.4 498.6,543.1" fill="none" stroke="#e2e2e2" stroke-width="1.1" stroke-linejoin="round" stroke-linecap="round" />
<polyline points="475.9,572.4 461.0,582.8" fill="none" stroke="#e2e2e2" stroke-width="1.1" stroke-linejoin="round" stroke-linecap="round" />
<polyline points="437.0,616.8 442.9,631.4" fill="none" stroke="#e2e2e2" stroke-width="1.1" stroke-linejoin="round" stroke-linecap="round" />
<polyline points="473.7,574.2 459.1,581.0" fill="none" stroke="#e2e2e2" stroke-width="1.1" stroke-linejoin="round" stroke-linecap="round" />
<polyline points="458.1,505.5 467.2,513.4" fill="none" stroke="#e2e2e2" stroke-width="1.1" stroke-linejoin="round" stroke-linecap="round" />
<polyline points="380.0,527.9 391.3,531.6" fill="none" stroke="#e2e2e2" stroke-width="1.1" stroke-linejoin="round" stroke-linecap="round" />
<polyline points="449.5,543.8 453.8,553.8" fill="none" stroke="#e2e2e2" stroke-width="1.1" stroke-linejoin="round" stroke-linecap="round" />
<polyline points="403.4,612.4 396.0,627.2" fill="none" stroke="#e2e2e2" stroke-width="1.1" stroke-linejoin="round" stroke-linecap="round" />
<polyline points="391.4,587.5 403.0,594.0" fill="none" stroke="#e2e2e2" stroke-width="1.1" stroke-linejoin="round" stroke-linecap="round" />
<polyline points="493.7,576.8 490.6,594.1" fill="none" stroke="#e2e2e2" stroke-width="1.1" stroke-linejoin="round" stroke-linecap="round" />
<polyline points="475.4,593.1 481.7,598.7" fill="none" stroke="#e2e2e2" stroke-width="1.1" stroke-linejoin="round" stroke-linecap="round" />
<polyline points="409.4,532.1 426.1,545.2" fill="none" stroke="#e2e2e2" stroke-width="1.1" stroke-linejoin="round" stroke-linecap="round" />
<polyline points="479.5,537.8 473.2,549.7" fill="none" stroke="#e2e2e2" stroke-width="1.1" stroke-linejoin="round" stroke-linecap="round" />
<polyline points="484.3,555.1 492.0,563.5" fill="none" stroke="#e2e2e2" stroke-width="1.1" stroke-linejoin="round" stroke-linecap="round" />
<polyline points="440.2,531.5 434.8,551.4" fill="none" stroke="#e2e2e2" stroke-width="1.1" stroke-linejoin="round" stroke-linecap="round" />
<polyline points="419.9,526.3 404.8,526.5" fill="none" stroke="#e2e2e2" stroke-width="1.1" stroke-linejoin="round" stroke-linecap="round" />
<polyline points="381.4,505.7 397.2,511.3" fill="none" stroke="#e2e2e2" stroke-width="1.1" stroke-linejoin="round" stroke-linecap="round" />
<polyline points="469.0,550.7 482.1,553.3" fill="none" stroke="#e2e2e2" stroke-width="1.1" stroke-linejoin="round" stroke-linecap="round" />
<polyline points="494.5,563.5 474.5,565.3" fill="none" stroke="#e2e2e2" stroke-width="1.1" stroke-linejoin="round" stroke-linecap="round" />
<polyline points="371.4,586.5 363.1,599.6" fill="none" stroke="#e2e2e2" stroke-width="1.1" stroke-linejoin="round" stroke-linecap="round" />
<polyline points="403.4,576.9 416.6,581.7" fill="none" stroke="#e2e2e2" stroke-width="1.1" stroke-linejoin="round" stroke-linecap="round" />
<polyline points="426.7,614.5 415.9,618.9" fill="none" stroke="#e2e2e2" stroke-width="1.1" stroke-linejoin="round" stroke-linecap="round" />
<polyline points="432.6,521.4 413.1,526.9" fill="none" stroke="#e2e2e2" stroke-width="1.1" stroke-linejoin="round" stroke-linecap="round" />
<polyline points="407.3,576.7 403.9,586.2" fill="none" stroke="#e2e2e2" stroke-width="1.1" stroke-linejoin="round" stroke-linecap="round" />
<polyline points="465.3,564.7 453.5,574.6" fill="none" stroke="#e2e2e2" stroke-width="1.1" stroke-linejoin="round" stroke-linecap="round" />
<polyline points="370.1,538.9 391.0,540.2" fill="none" stroke="#e2e2e2" stroke-width="1.1" stroke-linejoin="round" stroke-linecap="round" />
<polyline points="479.8,599.8 484.9,607.0" fill="none" stroke="#e2e2e2" stroke-width="1.1" stroke-linejoin="round" stroke-linecap="round" />
<polyline points="479.8,613.6 494.0,617.6" fill="none" stroke="#e2e2e2" stroke-width="1.1" stroke-linejoin="round" stroke-linecap="round" />
<polyline points="378.7,591.3 371.4,597.9" fill="none" stroke="#e2e2e2" stroke-width="1.1" stroke-linejoin="round" stroke-linecap="round" />
<polyline points="429.4,566.0 443.0,580.9" fill="none" stroke="#e2e2e2" stroke-width="1.1" stroke-linejoin="round" stroke-linecap="round" />
<polyline points="422.9,525.4 420.7,543.5" fill="none" stroke="#e2e2e2" stroke-width="1.1" stroke-linejoin="round" stroke-linecap="round" />
<polyline points="395.1,537.4 378.0,537.7" fill="none" stroke="#e2e2e2" stroke-width="1.1" stroke-linejoin="round" stroke-linecap="round" />
<polyline points="424.8,562.1 435.1,566.2" fill="none" stroke="#e2e2e2" stroke-width="1.1" stroke-linejoin="round" stroke-linecap="round" />
<polyline points="412.3,570.6 420.6,577.9" fill="none" stroke="#e2e2e2" stroke-width="1.1" stroke-linejoin="round" stroke-linecap="round" />
<polyline points="378.9,575.7 394.4,589.3" fill="none" stroke="#e2e2e2" stroke-width="1.1" stroke-linejoin="round" stroke-linecap="round" />
<polyline points="477.5,508.5 490.2,520.3" fill="none" stroke="#e2e2e2" stroke-width="1.1" stroke-linejoin="round" stroke-linecap="round" />
<polyline points="396.8,515.9 381.1,519.1" fill="none" stroke="#e2e2e2" stroke-width="1.1" stroke-linejoin="round" stroke-linecap="round" />
<polyline points="429.1,594.2 420.3,600.2" fill="none" stroke="#e2e2e2" stroke-width="1.1" stroke-linejoin="round" stroke-linecap="round" />
<polyline points="382.1,551.7 385.6,565.8" fill="none" stroke="#e2e2e2" stroke-width="1.1" stroke-linejoin="round" stroke-linecap="round" />
<polyline points="461.1,580.8 451.8,581.3" fill="none" stroke="#e2e2e2" stroke-width="1.1" stroke-linejoin="round" stroke-linecap="round" />
<polyline points="420.3,540.7 409.9,545.6" fill="none" stroke="#e2e2e2" stroke-width="1.1" stroke-linejoin="round" stroke-linecap="round" />
<polyline points="393.8,553.8 396.7,565.4" fill="none" stroke="#e2e2e2" stroke-width="1.1" stroke-linejoin="round" stroke-linecap="round" />
<polyline points="401.2,610.8 404.8,630.5" fill="none" stroke="#e2e2e2" stroke-width="1.1" stroke-linejoin="round" stroke-linecap="round" />
<polyline points="438.8,506.1 419.1,506.1" fill="none" stroke="#e2e2e2" stroke-width="1.1" stroke-linejoin="round" stroke-linecap="round" />
<polyline points="476.1,520.0 476.6,530.9" fill="none" stroke="#e2e2e2" stroke-width="1.1" stroke-linejoin="round" stroke-linecap="round" />
<polyline points="420.1,507.0 428.2,527.3" fill="none" stroke="#e2e2e2" stroke-width="1.1" stroke-linejoin="round" stroke-linecap="round" />
<polyline points="403.2,594.1 405.1,607.9" fill="none" stroke="#e2e2e2" stroke-width="1.1" stroke-linejoin="round" stroke-linecap="round" />
<polyline points="439.5,586.2 450.2,591.9" fill="none" stroke="#e2e2e2" stroke-width="1.1" stroke-linejoin="round" stroke-linecap="round" />
<polyline points="491.1,569.5 488.7,587.8" fill="none" stroke="#e2e2e2" stroke-width="1.1" stroke-linejoin="round" stroke-linecap="round" />
<polyline points="377.1,570.1 377.0,590.0" fill="none" stroke="#e2e2e2" stroke-width="1.1" stroke-linejoin="round" stroke-linecap="round" />
<polyline points="380.0,522.3 374.9,539.0" fill="none" stroke="#e2e2e2" stroke-width="1.1" stroke-linejoin="round" stroke-linecap="round" />
<polygon points="399.4,514.4 402.4,514.4 402.4,516.9 399.4,516.9" fill="#e4e4e4" />
<polygon points="481.3,529.5 484.3,529.5 484.3,532.0 481.3,532.0" fill="#e4e4e4" />
<polygon points="444.3,574.3 447.3,574.3 447.3,576.8 444.3,576.8" fill="#e4e4e4" />
<polygon points="422.4,570.0 425.4,570.0 425.4,572.5 422.4,572.5" fill="#e4e4e4" />
<polygon points="435.3,612.2 438.3,612.2 438.3,614.7 435.3,614.7" fill="#e4e4e4" />
<polygon points="395.5,585.9 398.5,585.9 398.5,588.4 395.5,588.4" fill="#e4e4e4" />
<polygon points="399.8,547.5 402.8,547.5 402.8,550.0 399.8,550.0" fill="#e4e4e4" />
<polygon points="454.0,536.0 457.0,536.0 457.0,538.5 454.0,538.5" fill="#e4e4e4" />
<polygon points="409.5,590.2 412.5,590.2 412.5,592.7 409.5,592.7" fill="#e4e4e4" />
<polygon points="379.1,555.0 382.1,555.0 382.1,557.5 379.1,557.5" fill="#e4e4e4" />
<polygon points="379.2,525.6 382.2,525.6 382.2,528.1 379.2,528.1" fill="#e4e4e4" />
<polygon points="403.2,612.0 406.2,612.0 406.2,614.5 403.2,614.5" fill="#e4e4e4" />
<polygon points="480.1,605.5 483.1,605.5 483.1,608.0 480.1,608.0" fill="#e4e4e4" />
<polygon points="416.2,518.9 419.2,518.9 419.2,521.4 416.2,521.4" fill="#e4e4e4" />
<polygon points="474.2,584.4 477.2,584.4 477.2,586.9 474.2,586.9" fill="#e4e4e4" />
<polygon points="446.5,618.5 449.5,618.5 449.5,621.0 446.5,621.0" fill="#e4e4e4" />
<polygon points="451.7,500.9 454.7,500.9 454.7,503.4 451.7,503.4" fill="#e4e4e4" />
<polygon points="472.1,535.9 475.1,535.9 475.1,538.4 472.1,538.4" fill="#e4e4e4" />
<polygon points="452.9,612.7 455.9,612.7 455.9,615.2 452.9,615.2" fill="#e4e4e4" />
<polygon points="386.8,513.9 389.8,513.9 389.8,516.4 386.8,516.4" fill="#e4e4e4" />
<polygon points="383.4,566.4 386.4,566.4 386.4,568.9 383.4,568.9" fill="#e4e4e4" />
<polygon points="404.0,572.6 407.0,572.6 407.0,575.1 404.0,575.1" fill="#e4e4e4" />
<polygon points="459.7,524.4 462.7,524.4 462.7,526.9 459.7,526.9" fill="#e4e4e4" />
<polygon points="449.3,531.7 452.3,531.7 452.3,534.2 449.3,534.2" fill="#e4e4e4" />
<polygon points="431.1,608.6 434.1,608.6 434.1,611.1 431.1,611.1" fill="#e4e4e4" />
<polygon points="475.8,511.1 478.8,511.1 478.8,513.6 475.8,513.6" fill="#e4e4e4" />
<polygon points="422.9,533.2 425.9,533.2 425.9,535.7 422.9,535.7" fill="#e4e4e4" />
<polygon points="449.6,531.4 452.6,531.4 452.6,533.9 449.6,533.9" fill="#e4e4e4" />
<ellipse cx="258" cy="376" rx="13" ry="12.5" fill="#c6c6c6"/><ellipse cx="258" cy="376" rx="7.5" ry="7.5" fill="#dedede"/>
<polygon points="31.0,320.0 136.0,320.0 150.0,360.0 160.0,420.0 150.0,455.0 110.0,470.0 60.0,455.0 31.0,445.0" fill="#eeeeee" />
<polygon points="31.0,655.0 108.0,797.0 31.0,797.0" fill="#ececec" />
<polygon points="760.0,775.0 800.0,752.0 858.0,738.0 865.0,797.0 745.0,797.0" fill="#ececec" />
<polygon points="845.0,728.0 870.0,700.0 940.0,695.0 975.0,697.0 1049.0,700.0 1049.0,797.0 845.0,797.0" fill="#ebebeb" />
<polygon points="937.2,738.3 1009.2,738.3 1009.2,771.4 1049.0,761.7 1049.0,797.0 956.7,797.0" fill="#efe9e1" />
<polygon points="703.0,320.0 869.0,320.0 859.0,400.0 852.0,437.0 760.0,440.0 700.0,452.0 680.0,462.0 692.0,400.0" fill="#efefef" />
<polyline points="145.0,561.0 200.0,547.0 261.0,534.0 310.0,515.0 350.0,497.0 400.0,479.0 443.0,473.0 470.0,488.0 500.0,514.0 532.0,557.0 550.0,590.0 569.0,619.0 594.0,678.0 606.0,720.0 625.0,750.0 650.0,775.0 690.0,797.0" fill="none" stroke="#dfeacf" stroke-width="19" stroke-linejoin="round" stroke-linecap="round" />
<polyline points="455.0,481.0 480.0,500.0 505.0,525.0 532.0,560.0" fill="none" stroke="#dfeacf" stroke-width="24" stroke-linejoin="round" stroke-linecap="round" />
<polygon points="128.0,480.0 150.0,478.0 160.0,520.0 165.0,575.0 130.0,575.0 120.0,540.0" fill="#dfeacf" />
<polygon points="36.0,458.0 60.0,455.0 64.0,490.0 40.0,495.0" fill="#dfeacf" />
<polygon points="68.0,465.0 105.0,470.0 107.0,496.0 76.0,500.0" fill="#dfeacf" />
<polygon points="500.0,452.0 546.0,450.0 540.0,522.0 522.0,527.0 505.0,512.0 498.0,482.0" fill="#dfeacf" />
<polygon points="528.0,322.0 560.0,322.0 556.0,352.0 530.0,350.0" fill="#dfeacf" />
<polygon points="378.0,392.0 408.0,392.0 410.0,418.0 380.0,420.0" fill="#dfeacf" />
<polygon points="31.0,690.0 60.0,690.0 70.0,735.0 45.0,740.0" fill="#dfeacf" />
<polygon points="916.0,320.0 934.0,320.0 937.0,480.0 947.0,600.0 958.0,650.0 972.0,697.0 940.0,697.0 931.0,640.0 926.0,560.0 921.0,480.0" fill="#efe8c6" />
<polygon points="933.0,320.0 1049.0,320.0 1049.0,700.0 972.0,697.0 958.0,650.0 947.0,600.0 937.0,480.0" fill="#8cc5ee" />
<polygon points="858.5,731.5 869.2,715.0 921.7,713.1 923.6,720.8 917.8,726.7 933.3,719.9 956.7,716.0 983.9,715.0 985.8,702.4 1034.4,702.4 1034.4,716.0 1046.1,718.9 1049.0,726.7 1049.0,746.1 1034.4,750.0 1013.0,765.6 989.7,728.6 976.1,724.3 956.7,724.3 941.1,728.6 931.4,735.4 917.8,750.0 894.4,771.4 888.6,761.7 875.0,746.1 859.4,736.4" fill="#8cc5ee" />
<polygon points="904.2,785.0 933.3,751.9 937.2,753.9 941.1,757.8 956.7,794.7 956.7,797.0 900.0,797.0" fill="#8cc5ee" />
<polygon points="800.0,793.0 850.0,790.0 852.0,797.0 800.0,797.0" fill="#8cc5ee" />
<polyline points="862.0,738.0 870.0,748.0 880.0,760.0 893.0,772.0" fill="none" stroke="#c8c8c8" stroke-width="4" stroke-linejoin="round" stroke-linecap="round" />
<polyline points="880.0,712.0 920.0,710.0" fill="none" stroke="#c8c8c8" stroke-width="4" stroke-linejoin="round" stroke-linecap="round" />
<polyline points="924.0,718.0 950.0,712.0" fill="none" stroke="#c8c8c8" stroke-width="4" stroke-linejoin="round" stroke-linecap="round" />
<polyline points="978.0,698.5 1034.4,701.4 1042.2,705.3 1048.0,718.9" fill="none" stroke="#a9a9a9" stroke-width="1.6" stroke-linejoin="round" stroke-linecap="round" />
<polyline points="1000.0,704.0 1001.0,716.0" fill="none" stroke="#d8ecf8" stroke-width="0.8" stroke-linejoin="round" stroke-linecap="round" />
<polyline points="1007.0,704.0 1008.0,716.0" fill="none" stroke="#d8ecf8" stroke-width="0.8" stroke-linejoin="round" stroke-linecap="round" />
<polyline points="1014.0,704.0 1015.0,716.0" fill="none" stroke="#d8ecf8" stroke-width="0.8" stroke-linejoin="round" stroke-linecap="round" />
<polyline points="1021.0,704.0 1022.0,716.0" fill="none" stroke="#d8ecf8" stroke-width="0.8" stroke-linejoin="round" stroke-linecap="round" />
<polyline points="1028.0,704.0 1029.0,716.0" fill="none" stroke="#d8ecf8" stroke-width="0.8" stroke-linejoin="round" stroke-linecap="round" />
<polyline points="1035.0,704.0 1036.0,716.0" fill="none" stroke="#d8ecf8" stroke-width="0.8" stroke-linejoin="round" stroke-linecap="round" />
<polyline points="1000.0,738.0 1012.0,760.0" fill="none" stroke="#d8ecf8" stroke-width="0.8" stroke-linejoin="round" stroke-linecap="round" />
<polyline points="1005.0,738.0 1017.0,760.0" fill="none" stroke="#d8ecf8" stroke-width="0.8" stroke-linejoin="round" stroke-linecap="round" />
<polyline points="1010.0,738.0 1022.0,760.0" fill="none" stroke="#d8ecf8" stroke-width="0.8" stroke-linejoin="round" stroke-linecap="round" />
<polyline points="1015.0,738.0 1027.0,760.0" fill="none" stroke="#d8ecf8" stroke-width="0.8" stroke-linejoin="round" stroke-linecap="round" />
<polyline points="1020.0,738.0 1032.0,760.0" fill="none" stroke="#d8ecf8" stroke-width="0.8" stroke-linejoin="round" stroke-linecap="round" />
<polyline points="1025.0,738.0 1037.0,760.0" fill="none" stroke="#d8ecf8" stroke-width="0.8" stroke-linejoin="round" stroke-linecap="round" />
<polyline points="1030.0,738.0 1042.0,760.0" fill="none" stroke="#d8ecf8" stroke-width="0.8" stroke-linejoin="round" stroke-linecap="round" />
<polyline points="886.7,796.7 917.8,753.9 937.2,736.4 956.7,730.9 976.1,736.4 987.8,757.8 1005.3,796.7" fill="none" stroke="#7a7a7a" stroke-width="1.3" stroke-linejoin="round" stroke-linecap="round" stroke-dasharray="3 2"/>
<polygon points="31.0,631.0 33.0,629.0 127.0,797.0 108.0,797.0 31.0,658.0" fill="#8cc5ee" />
<polyline points="36.0,626.0 132.0,797.0" fill="none" stroke="#f6f6f6" stroke-width="4" stroke-linejoin="round" stroke-linecap="round" />
<polygon points="634.0,760.0 648.0,748.0 668.0,765.0 692.0,786.0 700.0,797.0 664.0,797.0 645.0,780.0" fill="#8cc5ee" />
<ellipse cx="657" cy="772" rx="9" ry="5" fill="#cfcfcf" transform="rotate(40 657 772)"/>
<ellipse cx="680" cy="790" rx="8" ry="4" fill="#d3d3d3" transform="rotate(40 680 790)"/>
<polygon points="142.0,520.0 150.0,522.0 156.0,560.0 147.0,566.0 141.0,545.0" fill="#8cc5ee" />
<polyline points="682.0,468.0 875.0,320.0" fill="none" stroke="#fbfbfb" stroke-width="7" stroke-linejoin="round" stroke-linecap="round" />
<polyline points="140.0,320.0 160.0,380.0 172.0,440.0 168.0,470.0" fill="none" stroke="#f7f7f7" stroke-width="2.5" stroke-linejoin="round" stroke-linecap="round" />
<polyline points="31.0,600.0 100.0,610.0 170.0,630.0" fill="none" stroke="#f7f7f7" stroke-width="2.5" stroke-linejoin="round" stroke-linecap="round" />
<polyline points="31.0,682.0 100.0,712.0 135.0,735.0 160.0,765.0 170.0,797.0" fill="none" stroke="#8a8a8a" stroke-width="1.2" stroke-linejoin="round" stroke-linecap="round" stroke-dasharray="3 2"/>
<polyline points="80.0,430.0 160.0,460.0" fill="none" stroke="#9a9a9a" stroke-width="1" stroke-linejoin="round" stroke-linecap="round" stroke-dasharray="3 2"/>
<polyline points="869.0,320.0 859.0,400.0 849.0,480.0 842.0,540.0" fill="none" stroke="#8a8a8a" stroke-width="1.4" stroke-linejoin="round" stroke-linecap="round" />
<polyline points="869.0,320.0 859.0,400.0 849.0,480.0 842.0,540.0" fill="none" stroke="#dcdcdc" stroke-width="0.6" stroke-linejoin="round" stroke-linecap="round" stroke-dasharray="2 3"/>
<polyline points="700.0,325.0 740.0,335.0 780.0,350.0 820.0,360.0 862.0,365.0" fill="none" stroke="#7fb8e6" stroke-width="1.1" stroke-linejoin="round" stroke-linecap="round" />
<polyline points="700.0,345.0 735.0,352.0 760.0,372.0 800.0,380.0 860.0,395.0" fill="none" stroke="#7fb8e6" stroke-width="1.1" stroke-linejoin="round" stroke-linecap="round" />
<polyline points="705.0,375.0 740.0,378.0 770.0,405.0 810.0,410.0 862.0,418.0" fill="none" stroke="#7fb8e6" stroke-width="1.1" stroke-linejoin="round" stroke-linecap="round" />
<polyline points="705.0,400.0 745.0,410.0 790.0,430.0 830.0,435.0" fill="none" stroke="#7fb8e6" stroke-width="1.1" stroke-linejoin="round" stroke-linecap="round" />
<polyline points="790.0,320.0 800.0,350.0 795.0,380.0 820.0,420.0" fill="none" stroke="#7fb8e6" stroke-width="1.1" stroke-linejoin="round" stroke-linecap="round" />
<polyline points="740.0,320.0 745.0,345.0 738.0,372.0" fill="none" stroke="#7fb8e6" stroke-width="1.1" stroke-linejoin="round" stroke-linecap="round" />
<polyline points="840.0,330.0 848.0,360.0 845.0,390.0" fill="none" stroke="#7fb8e6" stroke-width="1.1" stroke-linejoin="round" stroke-linecap="round" />
<polyline points="60.0,432.0 110.0,470.0 130.0,500.0" fill="none" stroke="#7fb8e6" stroke-width="1.1" stroke-linejoin="round" stroke-linecap="round" />
<polyline points="706.0,322.0 730.0,330.0 760.0,345.0 800.0,350.0 830.0,360.0 868.0,362.0" fill="none" stroke="#7fb8e6" stroke-width="1.1" stroke-linejoin="round" stroke-linecap="round" />
<polyline points="720.0,320.0 722.0,340.0 740.0,355.0 780.0,362.0 790.0,392.0 830.0,402.0" fill="none" stroke="#7fb8e6" stroke-width="1.1" stroke-linejoin="round" stroke-linecap="round" />
<polyline points="706.0,420.0 740.0,425.0 770.0,440.0" fill="none" stroke="#7fb8e6" stroke-width="1.1" stroke-linejoin="round" stroke-linecap="round" />
<polyline points="760.0,320.0 770.0,340.0 768.0,370.0 790.0,380.0" fill="none" stroke="#7fb8e6" stroke-width="1.1" stroke-linejoin="round" stroke-linecap="round" />
<polyline points="820.0,320.0 818.0,345.0 835.0,352.0 860.0,355.0" fill="none" stroke="#7fb8e6" stroke-width="1.1" stroke-linejoin="round" stroke-linecap="round" />
<polyline points="780.0,395.0 785.0,420.0 800.0,436.0" fill="none" stroke="#7fb8e6" stroke-width="1.1" stroke-linejoin="round" stroke-linecap="round" />
<polyline points="700.0,390.0 715.0,380.0 735.0,395.0 760.0,398.0 780.0,420.0" fill="none" stroke="#7fb8e6" stroke-width="1.1" stroke-linejoin="round" stroke-linecap="round" />
<polyline points="31.0,440.0 70.0,470.0" fill="none" stroke="#7fb8e6" stroke-width="1.1" stroke-linejoin="round" stroke-linecap="round" />
<polyline points="110.0,450.0 120.0,480.0 138.0,520.0" fill="none" stroke="#7fb8e6" stroke-width="1.1" stroke-linejoin="round" stroke-linecap="round" />
<polyline points="1036.0,320.0 1040.0,500.0 1046.0,700.0" fill="none" stroke="#7fb4e0" stroke-width="0.8" stroke-linejoin="round" stroke-linecap="round" stroke-dasharray="2 2"/>
<g transform="translate(0,1.8)">
<polyline points="31.0,530.4 87.7,563.4 150.6,577.6 169.5,572.9 264.0,550.8 270.3,558.7 301.9,557.4 371.0,544.5 425.2,532.0 451.0,535.7" fill="none" stroke="#5b9be0" stroke-width="1.3" stroke-linejoin="round" stroke-linecap="round" />
</g>
<polyline points="31.0,530.4 87.7,563.4 150.6,577.6 169.5,572.9 264.0,550.8 270.3,558.7 301.9,557.4 371.0,544.5 425.2,532.0 451.0,535.7" fill="none" stroke="#d42b2b" stroke-width="2.0" stroke-linejoin="round" stroke-linecap="round" />
<g transform="translate(-2,0)">
<polyline points="453.0,540.4 447.4,566.3 438.0,584.8 427.0,607.0 401.0,650.0 392.5,680.0 380.4,734.5 377.3,797.0" fill="none" stroke="#5b9be0" stroke-width="1.3" stroke-linejoin="round" stroke-linecap="round" />
</g>
<polyline points="453.0,540.4 447.4,566.3 438.0,584.8 427.0,607.0 401.0,650.0 392.5,680.0 380.4,734.5 377.3,797.0" fill="none" stroke="#d12a2a" stroke-width="2.6" stroke-linejoin="round" stroke-linecap="round" />
<polyline points="385.0,797.0 388.0,740.0 396.0,690.0 404.0,655.0 420.0,626.0 438.0,588.5" fill="none" stroke="#ff2bf0" stroke-width="1.8" stroke-linejoin="round" stroke-linecap="round" />
<polyline points="705.2,320.0 690.0,390.0 675.6,460.7 667.0,479.0 648.0,507.0 637.0,531.0 626.0,531.0 623.0,538.5 627.8,540.4 616.7,573.7 603.7,608.9 590.7,620.0 579.6,623.7 559.3,624.6 553.7,618.0 548.0,610.0 540.0,598.0 515.0,588.0 502.0,586.7 501.0,582.0 495.6,581.0 493.7,587.6 468.7,583.9 467.8,588.5 453.0,591.3 451.0,596.0 440.0,596.9 438.0,588.5" fill="none" stroke="#ff2bf0" stroke-width="1.8" stroke-linejoin="round" stroke-linecap="round" />
<polyline points="556.9,620.0 588.0,687.4 599.0,683.8 605.0,697.0 614.6,716.3 648.3,738.0 665.0,742.8 674.8,754.8 689.0,766.8 703.7,781.3 689.0,798.0" fill="none" stroke="#ff2bf0" stroke-width="1.8" stroke-linejoin="round" stroke-linecap="round" />
<circle cx="675" cy="471.5" r="7.5" fill="none" stroke="#ff2bf0" stroke-width="1.8"/>
<text x="454" y="415" class="ml" text-anchor="middle">LA SAÏDIA</text>
<text x="239" y="458" class="ml" text-anchor="middle">CAMPANAR</text>
<text x="627" y="408" class="ml" text-anchor="middle">BENIMACLET</text>
<text x="441" y="554" class="ml" text-anchor="middle">CIUTAT</text>
<text x="441" y="565" class="ml" text-anchor="middle">VELLA</text>
<text x="592" y="542" class="ml" text-anchor="middle">PLA DEL</text>
<text x="592" y="553" class="ml" text-anchor="middle">REAL</text>
<text x="747" y="539" class="ml" text-anchor="middle">ALGIRÓS</text>
<text x="508" y="682" class="ml" text-anchor="middle">L’EIXAMPLE</text>
<text x="706" y="692" class="ml" text-anchor="middle">CAMINS</text>
<text x="706" y="703" class="ml" text-anchor="middle">AL GRAU</text>
<text x="851" y="677" class="ml" text-anchor="middle">POBLATS</text>
<text x="851" y="688" class="ml" text-anchor="middle">MARÍTIMS</text>
<text x="217" y="745" class="ml" text-anchor="middle">PATRAIX</text>
<text x="443.7" y="608" class="city" text-anchor="middle">Valencia</text>
<circle cx="443" cy="615" r="3.6" fill="none" stroke="#333" stroke-width="1.2"/><circle cx="443" cy="615" r="1.3" fill="#333"/>
<text x="36" y="548" class="town">Mislata</text>
<circle cx="58.4" cy="554.5" r="2.6" fill="#fff" stroke="#555" stroke-width="1"/>
<polyline points="430.8,671.5 396.2,797.0" fill="none" stroke="#8d8d8d" stroke-width="3.2" stroke-linejoin="round" stroke-linecap="round" />
<polyline points="430.8,671.5 396.2,797.0" fill="none" stroke="#f4f4f4" stroke-width="1.4" stroke-linejoin="round" stroke-linecap="round" stroke-dasharray="2 2"/>
<polyline points="436.0,680.0 404.0,797.0" fill="none" stroke="#9a9a9a" stroke-width="2.2" stroke-linejoin="round" stroke-linecap="round" />
<text x="357" y="740" class="st">València Joaquín Sorolla</text>
<text transform="translate(38,690) rotate(62)" class="wat">Séquia de Mislata</text>
<text transform="translate(31,405) rotate(14)" class="wat">rm</text>
<text transform="translate(699,358) rotate(-77)" class="road">Via Xurra</text>
<text transform="translate(866,330) rotate(-40)" class="road">Acc</text>
<g transform="translate(231.5,355)"><path d="M-3.1 2.2V-2.6A3.1 3.4 0 0 1 3.1 -2.6V2.2Z" fill="#fff" stroke="#30353a" stroke-width="1.3"/><path d="M-3.7 -0.2H3.7V2.8H-3.7Z" fill="#30353a"/><circle cx="-1.7" cy="1.2" r="0.7" fill="#ddd"/><circle cx="1.7" cy="1.2" r="0.7" fill="#ddd"/><path d="M-2.6 3.8H2.6L3.8 6H-3.8Z" fill="#30353a"/></g>
<g transform="translate(315.5,506)"><path d="M-3.1 2.2V-2.6A3.1 3.4 0 0 1 3.1 -2.6V2.2Z" fill="#fff" stroke="#30353a" stroke-width="1.3"/><path d="M-3.7 -0.2H3.7V2.8H-3.7Z" fill="#30353a"/><circle cx="-1.7" cy="1.2" r="0.7" fill="#ddd"/><circle cx="1.7" cy="1.2" r="0.7" fill="#ddd"/><path d="M-2.6 3.8H2.6L3.8 6H-3.8Z" fill="#30353a"/></g>
<g transform="translate(161.5,595)"><path d="M-3.1 2.2V-2.6A3.1 3.4 0 0 1 3.1 -2.6V2.2Z" fill="#fff" stroke="#30353a" stroke-width="1.3"/><path d="M-3.7 -0.2H3.7V2.8H-3.7Z" fill="#30353a"/><circle cx="-1.7" cy="1.2" r="0.7" fill="#ddd"/><circle cx="1.7" cy="1.2" r="0.7" fill="#ddd"/><path d="M-2.6 3.8H2.6L3.8 6H-3.8Z" fill="#30353a"/></g>
<g transform="translate(244.5,622)"><path d="M-3.1 2.2V-2.6A3.1 3.4 0 0 1 3.1 -2.6V2.2Z" fill="#fff" stroke="#30353a" stroke-width="1.3"/><path d="M-3.7 -0.2H3.7V2.8H-3.7Z" fill="#30353a"/><circle cx="-1.7" cy="1.2" r="0.7" fill="#ddd"/><circle cx="1.7" cy="1.2" r="0.7" fill="#ddd"/><path d="M-2.6 3.8H2.6L3.8 6H-3.8Z" fill="#30353a"/></g>
<g transform="translate(351.5,602)"><path d="M-3.1 2.2V-2.6A3.1 3.4 0 0 1 3.1 -2.6V2.2Z" fill="#fff" stroke="#30353a" stroke-width="1.3"/><path d="M-3.7 -0.2H3.7V2.8H-3.7Z" fill="#30353a"/><circle cx="-1.7" cy="1.2" r="0.7" fill="#ddd"/><circle cx="1.7" cy="1.2" r="0.7" fill="#ddd"/><path d="M-2.6 3.8H2.6L3.8 6H-3.8Z" fill="#30353a"/></g>
<g transform="translate(391.5,650)"><path d="M-3.1 2.2V-2.6A3.1 3.4 0 0 1 3.1 -2.6V2.2Z" fill="#fff" stroke="#30353a" stroke-width="1.3"/><path d="M-3.7 -0.2H3.7V2.8H-3.7Z" fill="#30353a"/><circle cx="-1.7" cy="1.2" r="0.7" fill="#ddd"/><circle cx="1.7" cy="1.2" r="0.7" fill="#ddd"/><path d="M-2.6 3.8H2.6L3.8 6H-3.8Z" fill="#30353a"/></g>
<g transform="translate(439.5,634)"><path d="M-3.1 2.2V-2.6A3.1 3.4 0 0 1 3.1 -2.6V2.2Z" fill="#fff" stroke="#30353a" stroke-width="1.3"/><path d="M-3.7 -0.2H3.7V2.8H-3.7Z" fill="#30353a"/><circle cx="-1.7" cy="1.2" r="0.7" fill="#ddd"/><circle cx="1.7" cy="1.2" r="0.7" fill="#ddd"/><path d="M-2.6 3.8H2.6L3.8 6H-3.8Z" fill="#30353a"/></g>
<g transform="translate(495.5,603)"><path d="M-3.1 2.2V-2.6A3.1 3.4 0 0 1 3.1 -2.6V2.2Z" fill="#fff" stroke="#30353a" stroke-width="1.3"/><path d="M-3.7 -0.2H3.7V2.8H-3.7Z" fill="#30353a"/><circle cx="-1.7" cy="1.2" r="0.7" fill="#ddd"/><circle cx="1.7" cy="1.2" r="0.7" fill="#ddd"/><path d="M-2.6 3.8H2.6L3.8 6H-3.8Z" fill="#30353a"/></g>
<g transform="translate(540.5,569)"><path d="M-3.1 2.2V-2.6A3.1 3.4 0 0 1 3.1 -2.6V2.2Z" fill="#fff" stroke="#30353a" stroke-width="1.3"/><path d="M-3.7 -0.2H3.7V2.8H-3.7Z" fill="#30353a"/><circle cx="-1.7" cy="1.2" r="0.7" fill="#ddd"/><circle cx="1.7" cy="1.2" r="0.7" fill="#ddd"/><path d="M-2.6 3.8H2.6L3.8 6H-3.8Z" fill="#30353a"/></g>
<g transform="translate(574.5,427)"><path d="M-3.1 2.2V-2.6A3.1 3.4 0 0 1 3.1 -2.6V2.2Z" fill="#fff" stroke="#30353a" stroke-width="1.3"/><path d="M-3.7 -0.2H3.7V2.8H-3.7Z" fill="#30353a"/><circle cx="-1.7" cy="1.2" r="0.7" fill="#ddd"/><circle cx="1.7" cy="1.2" r="0.7" fill="#ddd"/><path d="M-2.6 3.8H2.6L3.8 6H-3.8Z" fill="#30353a"/></g>
<g transform="translate(578.5,507)"><path d="M-3.1 2.2V-2.6A3.1 3.4 0 0 1 3.1 -2.6V2.2Z" fill="#fff" stroke="#30353a" stroke-width="1.3"/><path d="M-3.7 -0.2H3.7V2.8H-3.7Z" fill="#30353a"/><circle cx="-1.7" cy="1.2" r="0.7" fill="#ddd"/><circle cx="1.7" cy="1.2" r="0.7" fill="#ddd"/><path d="M-2.6 3.8H2.6L3.8 6H-3.8Z" fill="#30353a"/></g>
<g transform="translate(607.5,340)"><path d="M-3.1 2.2V-2.6A3.1 3.4 0 0 1 3.1 -2.6V2.2Z" fill="#fff" stroke="#30353a" stroke-width="1.3"/><path d="M-3.7 -0.2H3.7V2.8H-3.7Z" fill="#30353a"/><circle cx="-1.7" cy="1.2" r="0.7" fill="#ddd"/><circle cx="1.7" cy="1.2" r="0.7" fill="#ddd"/><path d="M-2.6 3.8H2.6L3.8 6H-3.8Z" fill="#30353a"/></g>
<g transform="translate(621.5,575)"><path d="M-3.1 2.2V-2.6A3.1 3.4 0 0 1 3.1 -2.6V2.2Z" fill="#fff" stroke="#30353a" stroke-width="1.3"/><path d="M-3.7 -0.2H3.7V2.8H-3.7Z" fill="#30353a"/><circle cx="-1.7" cy="1.2" r="0.7" fill="#ddd"/><circle cx="1.7" cy="1.2" r="0.7" fill="#ddd"/><path d="M-2.6 3.8H2.6L3.8 6H-3.8Z" fill="#30353a"/></g>
<g transform="translate(683.5,602)"><path d="M-3.1 2.2V-2.6A3.1 3.4 0 0 1 3.1 -2.6V2.2Z" fill="#fff" stroke="#30353a" stroke-width="1.3"/><path d="M-3.7 -0.2H3.7V2.8H-3.7Z" fill="#30353a"/><circle cx="-1.7" cy="1.2" r="0.7" fill="#ddd"/><circle cx="1.7" cy="1.2" r="0.7" fill="#ddd"/><path d="M-2.6 3.8H2.6L3.8 6H-3.8Z" fill="#30353a"/></g>
<g transform="translate(793.5,666)"><path d="M-3.1 2.2V-2.6A3.1 3.4 0 0 1 3.1 -2.6V2.2Z" fill="#fff" stroke="#30353a" stroke-width="1.3"/><path d="M-3.7 -0.2H3.7V2.8H-3.7Z" fill="#30353a"/><circle cx="-1.7" cy="1.2" r="0.7" fill="#ddd"/><circle cx="1.7" cy="1.2" r="0.7" fill="#ddd"/><path d="M-2.6 3.8H2.6L3.8 6H-3.8Z" fill="#30353a"/></g>
<g transform="translate(241.5,788)"><path d="M-3.1 2.2V-2.6A3.1 3.4 0 0 1 3.1 -2.6V2.2Z" fill="#fff" stroke="#30353a" stroke-width="1.3"/><path d="M-3.7 -0.2H3.7V2.8H-3.7Z" fill="#30353a"/><circle cx="-1.7" cy="1.2" r="0.7" fill="#ddd"/><circle cx="1.7" cy="1.2" r="0.7" fill="#ddd"/><path d="M-2.6 3.8H2.6L3.8 6H-3.8Z" fill="#30353a"/></g>
<g transform="translate(314.5,766)"><path d="M-3.1 2.2V-2.6A3.1 3.4 0 0 1 3.1 -2.6V2.2Z" fill="#fff" stroke="#30353a" stroke-width="1.3"/><path d="M-3.7 -0.2H3.7V2.8H-3.7Z" fill="#30353a"/><circle cx="-1.7" cy="1.2" r="0.7" fill="#ddd"/><circle cx="1.7" cy="1.2" r="0.7" fill="#ddd"/><path d="M-2.6 3.8H2.6L3.8 6H-3.8Z" fill="#30353a"/></g>
<g transform="translate(750.5,631)"><path d="M-3.1 2.2V-2.6A3.1 3.4 0 0 1 3.1 -2.6V2.2Z" fill="#fff" stroke="#30353a" stroke-width="1.3"/><path d="M-3.7 -0.2H3.7V2.8H-3.7Z" fill="#30353a"/><circle cx="-1.7" cy="1.2" r="0.7" fill="#ddd"/><circle cx="1.7" cy="1.2" r="0.7" fill="#ddd"/><path d="M-2.6 3.8H2.6L3.8 6H-3.8Z" fill="#30353a"/></g>
<g transform="translate(401.5,724)"><path d="M-3.1 2.2V-2.6A3.1 3.4 0 0 1 3.1 -2.6V2.2Z" fill="#fff" stroke="#30353a" stroke-width="1.3"/><path d="M-3.7 -0.2H3.7V2.8H-3.7Z" fill="#30353a"/><circle cx="-1.7" cy="1.2" r="0.7" fill="#ddd"/><circle cx="1.7" cy="1.2" r="0.7" fill="#ddd"/><path d="M-2.6 3.8H2.6L3.8 6H-3.8Z" fill="#30353a"/></g>
<polyline points="349.4,580.0 366.1,606.4 377.2,607.1 398.0,626.5 410.6,634.2 456.4,648.0 480.0,624.4 514.0,590.4 517.8,589.4 542.6,603.3 551.9,616.3 565.0,650.0 600.2,728.3 612.2,742.8 629.0,772.0" fill="none" stroke="#ff9514" stroke-width="5.6" stroke-linejoin="round" stroke-linecap="round" />
<polyline points="349.4,580.0 340.0,562.0 307.4,504.1 303.7,502.8 286.1,478.7 236.1,503.7 212.0,460.2 206.5,457.8 194.4,461.1 164.8,478.7 160.2,485.0 166.7,533.3 172.2,570.4 175.0,580.0 176.9,605.9 170.4,635.6 175.0,699.4 201.9,750.4 205.6,750.4 291.7,643.0 294.4,642.0 330.0,650.1 388.3,664.0 393.9,660.6 421.7,616.1 439.7,621.0 466.8,621.7 463.3,580.0 461.3,570.0 501.1,577.4 503.0,542.2 488.1,523.7 460.4,502.4 468.7,486.7 488.1,500.6 525.9,533.0 564.8,588.5 577.8,610.7 590.7,650.0 609.8,697.0 620.6,713.9 629.0,740.0" fill="none" stroke="#ff9514" stroke-width="5.6" stroke-linejoin="round" stroke-linecap="round" />
<polyline points="609.3,612.6 637.0,536.7 648.1,501.5 666.7,481.1 670.9,477.4 672.8,462.6 661.7,399.6 657.0,396.9 652.4,382.0 620.9,327.4 612.6,326.5 595.9,338.5 547.0,470.0 528.7,520.0 530.6,527.4 568.5,584.8 575.9,599.6 592.6,623.7 596.3,627.4 609.3,612.6" fill="none" stroke="#ff9514" stroke-width="5.6" stroke-linejoin="round" stroke-linecap="round" />
<polyline points="666.0,479.0 683.6,476.9 836.5,532.2 841.3,534.6 891.8,552.7 909.9,556.3 913.5,561.1 914.0,637.3 920.0,643.3 921.2,667.4 920.0,692.7 881.5,696.3 847.8,725.2 840.0,730.0" fill="none" stroke="#ff9514" stroke-width="5.6" stroke-linejoin="round" stroke-linecap="round" />
<polyline points="670.0,482.0 683.6,480.5 836.0,535.5 890.0,556.0" fill="none" stroke="#ff9514" stroke-width="5.6" stroke-linejoin="round" stroke-linecap="round" />
<polyline points="637.0,537.0 661.1,547.8 704.1,561.1 819.6,604.4 830.5,605.6 838.9,537.0" fill="none" stroke="#ff9514" stroke-width="5.6" stroke-linejoin="round" stroke-linecap="round" />
<polyline points="637.0,540.0 661.0,551.0 704.1,564.0 824.4,614.1 830.5,610.5" fill="none" stroke="#ff9514" stroke-width="5.6" stroke-linejoin="round" stroke-linecap="round" />
<polyline points="888.0,554.0 887.5,600.0 879.1,693.9 859.8,713.1 845.4,727.6 838.1,730.0" fill="none" stroke="#ff9514" stroke-width="5.6" stroke-linejoin="round" stroke-linecap="round" />
<polyline points="648.3,733.1 660.4,730.7 658.0,726.0 676.0,667.0 792.8,711.5 840.6,730.0" fill="none" stroke="#ff9514" stroke-width="5.6" stroke-linejoin="round" stroke-linecap="round" />
<polyline points="650.7,734.3 700.1,772.9 720.5,766.8 792.8,711.5" fill="none" stroke="#ff9514" stroke-width="5.6" stroke-linejoin="round" stroke-linecap="round" />
<polyline points="629.0,776.0 646.0,756.0 650.0,735.0" fill="none" stroke="#ff9514" stroke-width="5.6" stroke-linejoin="round" stroke-linecap="round" />
<polyline points="646.0,754.8 662.8,774.0 661.6,783.7 673.6,791.0" fill="none" stroke="#ff9514" stroke-width="5.6" stroke-linejoin="round" stroke-linecap="round" />
<ellipse cx="0" cy="0" rx="24" ry="9" fill="#000" opacity="0.2" transform="translate(652,757) rotate(-38)"/>
<defs><linearGradient id="mk" x1="0" y1="0" x2="0" y2="1"><stop offset="0" stop-color="#3b8fd6"/><stop offset="1" stop-color="#1d71b8"/></linearGradient></defs>
<path d="M629 774.6C626.5 766 609.3 752 609.3 732.2A19.6 19.6 0 0 1 648.5 732.2C648.5 752 631.5 766 629 774.6Z" fill="url(#mk)" stroke="#1b5e98" stroke-width="1"/>
<circle cx="629" cy="731.6" r="6.8" fill="#fff" stroke="#1b5e98" stroke-width="0.8"/>
</svg>
<div id="zoomc"><svg width="41" height="83" viewBox="0 0 41 83"><path d="M14.2 22.5h13M20.7 16v13M14.2 66.5h13" stroke="#ff9514" stroke-width="3"/><path d="M0 41.2h41" stroke="#c8c8c8" stroke-width="1"/></svg></div>
<div id="layers"><svg width="57" height="57" viewBox="0 0 57 57">
<path d="M28.5 22.8L49 35.7L28.5 48.6L8 35.7z" fill="#b9b9b9"/>
<path d="M8 35.7L28.5 48.6L49 35.7" fill="none" stroke="#5f5f5f" stroke-width="1.1"/>
<path d="M28.5 16.1L49 29L28.5 41.9L8 29z" fill="#cfcfcf"/>
<path d="M8 29L28.5 41.9L49 29" fill="none" stroke="#5f5f5f" stroke-width="1.1"/>
<path d="M28.5 9.3L49 22.2L28.5 35.1L8 22.2z" fill="#ececec" stroke="#9a9a9a" stroke-width="0.6"/>
<path d="M8 22.2L28.5 35.1L49 22.2" fill="none" stroke="#5f5f5f" stroke-width="1.1"/>
<path d="M28.5 13.5L43 22.6L28.5 31.7L14 22.6z" fill="#d9d9d9"/>
</svg></div>
<div id="attr">Leaflet</div>

</div>

<svg id="chart" class="a" width="1080" height="1144" viewBox="0 0 1080 1144">
<polygon points="126.7,986.3 126.7,961.8 130.0,961.8 130.5,978.9 134.4,978.9 136.7,977.0 140.0,972.2 158.9,972.2 160.0,968.9 186.2,968.9 186.7,977.1 190.0,979.3 193.3,982.2 197.8,983.3 200.0,980.7 204.4,980.7 206.2,983.3 212.9,983.3 214.4,978.9 226.2,978.9 232.2,982.2 235.5,982.2 237.8,979.3 278.9,979.3 280.4,976.7 308.9,976.7 313.3,977.8 325.6,977.8 328.9,974.4 331.1,970.7 352.9,970.7 353.3,963.3 361.1,963.3 362.2,957.8 368.2,957.8 368.9,970.7 377.8,970.7 380.0,972.9 383.3,972.9 384.4,978.9 397.1,978.9 397.8,973.3 401.1,972.2 405.6,970.0 414.4,970.0 415.6,974.4 421.1,974.4 425.6,976.2 437.8,976.2 444.4,967.8 463.3,967.8 467.8,969.3 481.1,969.3 482.7,975.1 488.9,975.1 491.6,963.3 505.6,963.3 508.2,961.8 515.6,961.8 517.8,964.4 530.0,964.4 536.7,970.0 542.2,970.0 543.3,973.3 547.8,977.1 560.0,977.1 562.7,981.8 570.0,981.8 574.4,980.4 606.2,980.4 607.1,976.0 623.3,976.0 627.8,977.3 637.8,977.3 638.9,983.3 649.3,983.3 651.6,974.0 654.0,974.0 656.0,980.7 698.9,980.7 701.1,973.3 711.1,973.3 714.4,970.7 718.9,970.7 721.1,950.4 730.7,950.4 732.2,962.2 737.8,962.2 742.2,954.4 752.2,954.4 753.8,950.4 763.3,950.4 765.6,953.8 770.0,953.8 772.7,950.4 795.6,950.4 800.0,942.2 806.7,942.2 810.0,956.7 820.0,956.7 822.2,954.4 832.2,954.4 832.9,960.7 841.1,960.7 842.2,949.3 846.7,949.3 851.1,960.0 864.4,960.0 868.2,950.7 884.4,950.7 887.8,952.0 911.1,952.0 918.9,949.3 931.1,949.3 936.7,947.8 947.8,947.8 949.3,958.9 978.9,958.9 980.4,953.3 986.7,953.3 992.2,957.8 1010.0,957.8 1012.2,967.8 1021.1,967.8 1023.3,976.2 1032.2,976.2 1032.2,986.3" fill="#fdefe4"/>
<polyline points="126.7,961.8 130.0,961.8 130.5,978.9 134.4,978.9 136.7,977.0 140.0,972.2 158.9,972.2 160.0,968.9 186.2,968.9 186.7,977.1 190.0,979.3 193.3,982.2 197.8,983.3 200.0,980.7 204.4,980.7 206.2,983.3 212.9,983.3 214.4,978.9 226.2,978.9 232.2,982.2 235.5,982.2 237.8,979.3 278.9,979.3 280.4,976.7 308.9,976.7 313.3,977.8 325.6,977.8 328.9,974.4 331.1,970.7 352.9,970.7 353.3,963.3 361.1,963.3 362.2,957.8 368.2,957.8 368.9,970.7 377.8,970.7 380.0,972.9 383.3,972.9 384.4,978.9 397.1,978.9 397.8,973.3 401.1,972.2 405.6,970.0 414.4,970.0 415.6,974.4 421.1,974.4 425.6,976.2 437.8,976.2 444.4,967.8 463.3,967.8 467.8,969.3 481.1,969.3 482.7,975.1 488.9,975.1 491.6,963.3 505.6,963.3 508.2,961.8 515.6,961.8 517.8,964.4 530.0,964.4 536.7,970.0 542.2,970.0 543.3,973.3 547.8,977.1 560.0,977.1 562.7,981.8 570.0,981.8 574.4,980.4 606.2,980.4 607.1,976.0 623.3,976.0 627.8,977.3 637.8,977.3 638.9,983.3 649.3,983.3 651.6,974.0 654.0,974.0 656.0,980.7 698.9,980.7 701.1,973.3 711.1,973.3 714.4,970.7 718.9,970.7 721.1,950.4 730.7,950.4 732.2,962.2 737.8,962.2 742.2,954.4 752.2,954.4 753.8,950.4 763.3,950.4 765.6,953.8 770.0,953.8 772.7,950.4 795.6,950.4 800.0,942.2 806.7,942.2 810.0,956.7 820.0,956.7 822.2,954.4 832.2,954.4 832.9,960.7 841.1,960.7 842.2,949.3 846.7,949.3 851.1,960.0 864.4,960.0 868.2,950.7 884.4,950.7 887.8,952.0 911.1,952.0 918.9,949.3 931.1,949.3 936.7,947.8 947.8,947.8 949.3,958.9 978.9,958.9 980.4,953.3 986.7,953.3 992.2,957.8 1010.0,957.8 1012.2,967.8 1021.1,967.8 1023.3,976.2 1032.2,976.2" fill="none" stroke="#ff9514" stroke-width="4" stroke-linejoin="round" stroke-linecap="round"/>
<path d="M125.5 844.5V1058H1032.7" fill="none" stroke="#7c7c7c" stroke-width="1.6"/>
<text x="101.5" y="852.5" text-anchor="end" class="yl">100 m</text>
<text x="101.5" y="922.1" text-anchor="end" class="yl">50 m</text>
<text x="101.5" y="993.4" text-anchor="end" class="yl">0 m</text>
<text x="101.5" y="1065.2" text-anchor="end" class="yl">–50 m</text>
<text transform="translate(129.1,1083.2) rotate(-45)" text-anchor="end" class="xl">0 km</text>
<text transform="translate(171.8,1083.2) rotate(-45)" text-anchor="end" class="xl">2 km</text>
<text transform="translate(214.5,1083.2) rotate(-45)" text-anchor="end" class="xl">4 km</text>
<text transform="translate(257.3,1083.2) rotate(-45)" text-anchor="end" class="xl">6 km</text>
<text transform="translate(300.0,1083.2) rotate(-45)" text-anchor="end" class="xl">8 km</text>
<text transform="translate(342.7,1083.2) rotate(-45)" text-anchor="end" class="xl">10 km</text>
<text transform="translate(385.4,1083.2) rotate(-45)" text-anchor="end" class="xl">12 km</text>
<text transform="translate(428.1,1083.2) rotate(-45)" text-anchor="end" class="xl">14 km</text>
<text transform="translate(470.9,1083.2) rotate(-45)" text-anchor="end" class="xl">16 km</text>
<text transform="translate(513.6,1083.2) rotate(-45)" text-anchor="end" class="xl">18 km</text>
<text transform="translate(556.3,1083.2) rotate(-45)" text-anchor="end" class="xl">20 km</text>
<text transform="translate(599.0,1083.2) rotate(-45)" text-anchor="end" class="xl">22 km</text>
<text transform="translate(641.7,1083.2) rotate(-45)" text-anchor="end" class="xl">24 km</text>
<text transform="translate(684.5,1083.2) rotate(-45)" text-anchor="end" class="xl">26 km</text>
<text transform="translate(727.2,1083.2) rotate(-45)" text-anchor="end" class="xl">28 km</text>
<text transform="translate(769.9,1083.2) rotate(-45)" text-anchor="end" class="xl">30 km</text>
<text transform="translate(812.6,1083.2) rotate(-45)" text-anchor="end" class="xl">32 km</text>
<text transform="translate(855.3,1083.2) rotate(-45)" text-anchor="end" class="xl">34 km</text>
<text transform="translate(898.1,1083.2) rotate(-45)" text-anchor="end" class="xl">36 km</text>
<text transform="translate(940.8,1083.2) rotate(-45)" text-anchor="end" class="xl">38 km</text>
<text transform="translate(983.5,1083.2) rotate(-45)" text-anchor="end" class="xl">40 km</text>
<text transform="translate(1026.2,1083.2) rotate(-45)" text-anchor="end" class="xl">42 km</text>

</svg>
<div id="edge"></div>
</body>
</html>
